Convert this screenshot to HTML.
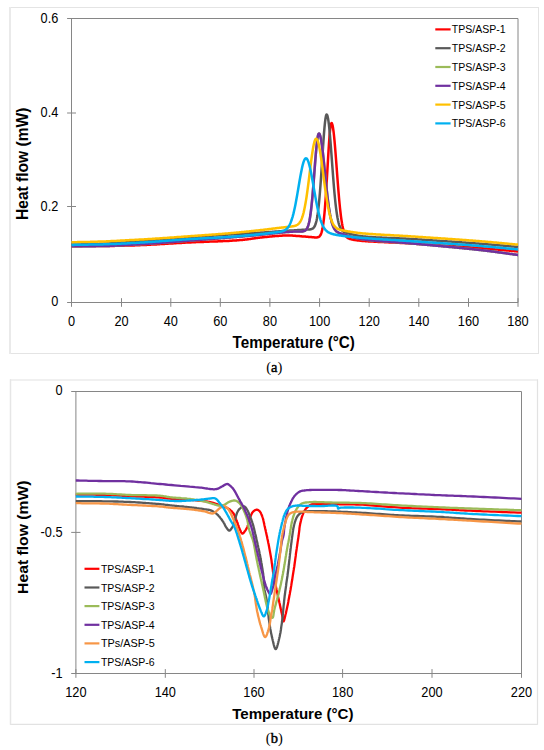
<!DOCTYPE html>
<html><head><meta charset="utf-8"><style>
html,body{margin:0;padding:0;background:#fff;}
svg{display:block;}
text{font-family:"Liberation Sans",sans-serif;fill:#000;}
.tl{font-size:14.1px;}
.lg{font-size:11.3px;}
.ti{font-size:16px;font-weight:bold;}
.cap{font-family:"Liberation Serif",serif;font-size:14.5px;}
.cb{stroke:#000;stroke-width:0.45px;}
.tk{stroke:#868686;stroke-width:1;}
.ax{stroke:#868686;stroke-width:1;fill:none;}
.fr{stroke:#D9D9D9;stroke-width:1;fill:none;}
.la{fill:none;stroke-width:2.5;stroke-linejoin:round;stroke-linecap:butt;}
.lb{fill:none;stroke-width:2.3;stroke-linejoin:round;stroke-linecap:butt;}
</style></head><body>
<svg width="544" height="750" viewBox="0 0 544 750">
<path d="M9 7.5H538.5M538.5 7V354M538.5 353.5H9" stroke="#E4E4E4" stroke-width="1" fill="none"/>
<path d="M10 7V354" stroke="#EAEAEA" stroke-width="2" fill="none"/>
<path d="M10 380H537.5M537.5 379.3V724.8M537.5 724.3H10" stroke="#E2E2E2" stroke-width="1.2" fill="none"/>
<path d="M10.5 379.3V724.8" stroke="#E6E6E6" stroke-width="1.5" fill="none"/>
<!-- chart A -->
<path d="M71.5 18.5H518.0V302.5H71.5Z" class="ax"/>
<line x1="67.1" y1="302.50" x2="76" y2="302.50" class="tk"/>
<text x="58.3" y="306.4" class="tl" text-anchor="end" textLength="7.10" lengthAdjust="spacingAndGlyphs">0</text>
<line x1="67.1" y1="206.50" x2="76" y2="206.50" class="tk"/>
<text x="58.3" y="210.9" class="tl" text-anchor="end" textLength="17.70" lengthAdjust="spacingAndGlyphs">0.2</text>
<line x1="67.1" y1="113.00" x2="76" y2="113.00" class="tk"/>
<text x="58.3" y="117.0" class="tl" text-anchor="end" textLength="17.70" lengthAdjust="spacingAndGlyphs">0.4</text>
<line x1="67.1" y1="18.50" x2="76" y2="18.50" class="tk"/>
<text x="58.3" y="22.5" class="tl" text-anchor="end" textLength="17.70" lengthAdjust="spacingAndGlyphs">0.6</text>
<line x1="71.50" y1="298.2" x2="71.50" y2="306.8" class="tk"/>
<text x="71.50" y="325.5" class="tl" text-anchor="middle" textLength="7.10" lengthAdjust="spacingAndGlyphs">0</text>
<line x1="121.50" y1="298.2" x2="121.50" y2="306.8" class="tk"/>
<text x="121.50" y="325.5" class="tl" text-anchor="middle" textLength="14.20" lengthAdjust="spacingAndGlyphs">20</text>
<line x1="170.80" y1="298.2" x2="170.80" y2="306.8" class="tk"/>
<text x="170.80" y="325.5" class="tl" text-anchor="middle" textLength="14.20" lengthAdjust="spacingAndGlyphs">40</text>
<line x1="220.30" y1="298.2" x2="220.30" y2="306.8" class="tk"/>
<text x="220.30" y="325.5" class="tl" text-anchor="middle" textLength="14.20" lengthAdjust="spacingAndGlyphs">60</text>
<line x1="269.90" y1="298.2" x2="269.90" y2="306.8" class="tk"/>
<text x="269.90" y="325.5" class="tl" text-anchor="middle" textLength="14.20" lengthAdjust="spacingAndGlyphs">80</text>
<line x1="319.60" y1="298.2" x2="319.60" y2="306.8" class="tk"/>
<text x="319.60" y="325.5" class="tl" text-anchor="middle" textLength="21.30" lengthAdjust="spacingAndGlyphs">100</text>
<line x1="369.20" y1="298.2" x2="369.20" y2="306.8" class="tk"/>
<text x="369.20" y="325.5" class="tl" text-anchor="middle" textLength="21.30" lengthAdjust="spacingAndGlyphs">120</text>
<line x1="418.80" y1="298.2" x2="418.80" y2="306.8" class="tk"/>
<text x="418.80" y="325.5" class="tl" text-anchor="middle" textLength="21.30" lengthAdjust="spacingAndGlyphs">140</text>
<line x1="468.50" y1="298.2" x2="468.50" y2="306.8" class="tk"/>
<text x="468.50" y="325.5" class="tl" text-anchor="middle" textLength="21.30" lengthAdjust="spacingAndGlyphs">160</text>
<line x1="518.00" y1="298.2" x2="518.00" y2="306.8" class="tk"/>
<text x="518.00" y="325.5" class="tl" text-anchor="middle" textLength="21.30" lengthAdjust="spacingAndGlyphs">180</text>
<g>
<path d="M71.5 246.2L72.0 246.2L72.5 246.2L73.0 246.2L73.5 246.2L74.0 246.2L74.5 246.2L75.0 246.2L75.5 246.2L76.0 246.2L76.5 246.2L77.0 246.2L77.5 246.2L78.0 246.2L78.5 246.2L79.0 246.2L79.5 246.2L80.0 246.2L80.5 246.2L81.0 246.2L81.5 246.2L82.0 246.2L82.5 246.1L83.0 246.1L83.5 246.1L84.0 246.1L84.5 246.1L85.0 246.1L85.5 246.1L86.0 246.1L86.5 246.1L87.0 246.1L87.5 246.1L88.0 246.1L88.5 246.1L89.0 246.1L89.5 246.1L90.0 246.1L90.5 246.1L91.0 246.1L91.5 246.1L92.0 246.1L92.5 246.1L93.0 246.1L93.5 246.1L94.0 246.1L94.5 246.1L95.0 246.1L95.5 246.1L96.0 246.1L96.5 246.1L97.0 246.1L97.5 246.1L98.0 246.1L98.5 246.1L99.0 246.1L99.5 246.1L100.0 246.1L100.5 246.0L101.0 246.0L101.5 246.0L102.0 246.0L102.5 246.0L103.0 246.0L103.5 246.0L104.0 246.0L104.5 246.0L105.0 246.0L105.5 246.0L106.0 246.0L106.5 246.0L107.0 246.0L107.5 246.0L108.0 246.0L108.5 246.0L109.0 245.9L109.5 245.9L110.0 245.9L110.5 245.9L111.0 245.9L111.5 245.9L112.0 245.9L112.5 245.9L113.0 245.9L113.5 245.9L114.0 245.9L114.5 245.9L115.0 245.8L115.5 245.8L116.0 245.8L116.5 245.8L117.0 245.8L117.5 245.8L118.0 245.8L118.5 245.8L119.0 245.8L119.5 245.8L120.0 245.8L120.5 245.7L121.0 245.7L121.5 245.7L122.0 245.7L122.5 245.7L123.0 245.7L123.5 245.7L124.0 245.7L124.5 245.6L125.0 245.6L125.5 245.6L126.0 245.6L126.5 245.6L127.0 245.6L127.5 245.6L128.0 245.6L128.5 245.5L129.0 245.5L129.5 245.5L130.0 245.5L130.5 245.5L131.0 245.5L131.5 245.5L132.0 245.4L132.5 245.4L133.0 245.4L133.5 245.4L134.0 245.4L134.5 245.4L135.0 245.3L135.5 245.3L136.0 245.3L136.5 245.3L137.0 245.3L137.5 245.2L138.0 245.2L138.5 245.2L139.0 245.2L139.5 245.2L140.0 245.2L140.5 245.1L141.0 245.1L141.5 245.1L142.0 245.1L142.5 245.0L143.0 245.0L143.5 245.0L144.0 245.0L144.5 245.0L145.0 244.9L145.5 244.9L146.0 244.9L146.5 244.9L147.0 244.8L147.5 244.8L148.0 244.8L148.5 244.8L149.0 244.7L149.5 244.7L150.0 244.7L150.5 244.7L151.0 244.6L151.5 244.6L152.0 244.6L152.5 244.6L153.0 244.5L153.5 244.5L154.0 244.5L154.5 244.5L155.0 244.4L155.5 244.4L156.0 244.4L156.5 244.4L157.0 244.3L157.5 244.3L158.0 244.3L158.5 244.2L159.0 244.2L159.5 244.2L160.0 244.1L160.5 244.1L161.0 244.1L161.5 244.1L162.0 244.0L162.5 244.0L163.0 244.0L163.5 243.9L164.0 243.9L164.5 243.9L165.0 243.8L165.5 243.8L166.0 243.8L166.5 243.8L167.0 243.7L167.5 243.7L168.0 243.7L168.5 243.6L169.0 243.6L169.5 243.6L170.0 243.5L170.5 243.5L171.0 243.5L171.5 243.4L172.0 243.4L172.5 243.4L173.0 243.4L173.5 243.3L174.0 243.3L174.5 243.3L175.0 243.2L175.5 243.2L176.0 243.2L176.5 243.1L177.0 243.1L177.5 243.1L178.0 243.1L178.5 243.0L179.0 243.0L179.5 243.0L180.0 242.9L180.5 242.9L181.0 242.9L181.5 242.9L182.0 242.8L182.5 242.8L183.0 242.8L183.5 242.7L184.0 242.7L184.5 242.7L185.0 242.7L185.5 242.6L186.0 242.6L186.5 242.6L187.0 242.6L187.5 242.5L188.0 242.5L188.5 242.5L189.0 242.5L189.5 242.4L190.0 242.4L190.5 242.4L191.0 242.4L191.5 242.3L192.0 242.3L192.5 242.3L193.0 242.3L193.5 242.2L194.0 242.2L194.5 242.2L195.0 242.2L195.5 242.2L196.0 242.1L196.5 242.1L197.0 242.1L197.5 242.1L198.0 242.1L198.5 242.0L199.0 242.0L199.5 242.0L200.0 242.0L200.5 242.0L201.0 241.9L201.5 241.9L202.0 241.9L202.5 241.9L203.0 241.9L203.5 241.9L204.0 241.8L204.5 241.8L205.0 241.8L205.5 241.8L206.0 241.8L206.5 241.7L207.0 241.7L207.5 241.7L208.0 241.7L208.5 241.7L209.0 241.7L209.5 241.6L210.0 241.6L210.5 241.6L211.0 241.6L211.5 241.6L212.0 241.6L212.5 241.5L213.0 241.5L213.5 241.5L214.0 241.5L214.5 241.5L215.0 241.5L215.5 241.4L216.0 241.4L216.5 241.4L217.0 241.4L217.5 241.4L218.0 241.3L218.5 241.3L219.0 241.3L219.5 241.3L220.0 241.3L220.5 241.2L221.0 241.2L221.5 241.2L222.0 241.2L222.5 241.2L223.0 241.1L223.5 241.1L224.0 241.1L224.5 241.1L225.0 241.1L225.5 241.0L226.0 241.0L226.5 241.0L227.0 241.0L227.5 240.9L228.0 240.9L228.5 240.9L229.0 240.9L229.5 240.8L230.0 240.8L230.5 240.8L231.0 240.7L231.5 240.7L232.0 240.7L232.5 240.6L233.0 240.6L233.5 240.6L234.0 240.5L234.5 240.5L235.0 240.5L235.5 240.4L236.0 240.4L236.5 240.4L237.0 240.3L237.5 240.3L238.0 240.3L238.5 240.2L239.0 240.2L239.5 240.1L240.0 240.1L240.5 240.0L241.0 240.0L241.5 240.0L242.0 239.9L242.5 239.9L243.0 239.8L243.5 239.8L244.0 239.7L244.5 239.7L245.0 239.6L245.5 239.5L246.0 239.5L246.5 239.4L247.0 239.4L247.5 239.3L248.0 239.2L248.5 239.2L249.0 239.1L249.5 239.0L250.0 239.0L250.5 238.9L251.0 238.8L251.5 238.7L252.0 238.7L252.5 238.6L253.0 238.5L253.5 238.4L254.0 238.4L254.5 238.3L255.0 238.2L255.5 238.2L256.0 238.1L256.5 238.0L257.0 238.0L257.5 237.9L258.0 237.8L258.5 237.8L259.0 237.7L259.5 237.7L260.0 237.6L260.5 237.5L261.0 237.5L261.5 237.4L262.0 237.4L262.5 237.3L263.0 237.3L263.5 237.2L264.0 237.2L264.5 237.1L265.0 237.1L265.5 237.0L266.0 237.0L266.5 236.9L267.0 236.9L267.5 236.8L268.0 236.8L268.5 236.7L269.0 236.7L269.5 236.6L270.0 236.6L270.5 236.5L271.0 236.5L271.5 236.4L272.0 236.4L272.5 236.3L273.0 236.3L273.5 236.3L274.0 236.2L274.5 236.2L275.0 236.1L275.5 236.1L276.0 236.1L276.5 236.0L277.0 236.0L277.5 235.9L278.0 235.9L278.5 235.9L279.0 235.8L279.5 235.8L280.0 235.8L280.5 235.7L281.0 235.7L281.5 235.7L282.0 235.7L282.5 235.6L283.0 235.6L283.5 235.6L284.0 235.6L284.5 235.6L285.0 235.5L285.5 235.5L286.0 235.5L286.5 235.5L287.0 235.5L287.5 235.5L288.0 235.5L288.5 235.5L289.0 235.5L289.5 235.5L290.0 235.5L290.5 235.5L291.0 235.6L291.5 235.6L292.0 235.6L292.5 235.6L293.0 235.7L293.5 235.7L294.0 235.7L294.5 235.7L295.0 235.8L295.5 235.8L296.0 235.9L296.5 235.9L297.0 235.9L297.5 236.0L298.0 236.0L298.5 236.1L299.0 236.1L299.5 236.1L300.0 236.2L300.5 236.2L301.0 236.3L301.5 236.3L302.0 236.4L302.5 236.4L303.0 236.4L303.5 236.5L304.0 236.5L304.5 236.6L305.0 236.6L305.5 236.6L306.0 236.7L306.5 236.7L307.0 236.7L307.5 236.8L308.0 236.8L308.5 236.9L309.0 236.9L309.5 237.0L310.0 237.0L310.5 237.0L311.0 237.1L311.5 237.1L312.0 237.2L312.5 237.2L313.0 237.3L313.5 237.3L314.0 237.3L314.5 237.4L315.0 237.4L315.5 237.4L316.0 237.4L316.5 237.4L317.0 237.4L317.5 237.3L318.0 237.2L318.5 237.0L319.0 236.8L319.5 236.4L320.0 235.8L320.5 235.1L321.0 234.1L321.5 232.7L322.0 230.9L322.5 228.6L323.0 225.8L323.5 222.2L324.0 218.0L324.5 213.0L325.0 207.1L325.5 200.5L326.0 193.2L326.5 185.2L327.0 176.8L327.5 168.2L328.0 159.5L328.5 151.1L329.0 143.4L329.5 136.5L330.0 130.8L330.5 126.5L331.0 123.9L331.5 123.0L332.0 123.5L332.5 125.1L333.0 127.7L333.5 131.2L334.0 135.6L334.5 140.7L335.0 146.4L335.5 152.5L336.0 159.0L336.5 165.7L337.0 172.4L337.5 179.0L338.0 185.5L338.5 191.7L339.0 197.5L339.5 203.0L340.0 208.0L340.5 212.5L341.0 216.6L341.5 220.2L342.0 223.3L342.5 226.0L343.0 228.4L343.5 230.4L344.0 232.0L344.5 233.4L345.0 234.5L345.5 235.5L346.0 236.2L346.5 236.9L347.0 237.4L347.5 237.8L348.0 238.1L348.5 238.4L349.0 238.6L349.5 238.8L350.0 239.0L350.5 239.1L351.0 239.2L351.5 239.3L352.0 239.5L352.5 239.6L353.0 239.7L353.5 239.8L354.0 239.9L354.5 239.9L355.0 240.0L355.5 240.1L356.0 240.2L356.5 240.3L357.0 240.3L357.5 240.4L358.0 240.5L358.5 240.5L359.0 240.6L359.5 240.6L360.0 240.7L360.5 240.7L361.0 240.8L361.5 240.8L362.0 240.9L362.5 240.9L363.0 241.0L363.5 241.0L364.0 241.0L364.5 241.1L365.0 241.1L365.5 241.2L366.0 241.2L366.5 241.2L367.0 241.3L367.5 241.3L368.0 241.3L368.5 241.4L369.0 241.4L369.5 241.4L370.0 241.5L370.5 241.5L371.0 241.5L371.5 241.5L372.0 241.6L372.5 241.6L373.0 241.6L373.5 241.6L374.0 241.7L374.5 241.7L375.0 241.7L375.5 241.7L376.0 241.8L376.5 241.8L377.0 241.8L377.5 241.8L378.0 241.9L378.5 241.9L379.0 241.9L379.5 241.9L380.0 242.0L380.5 242.0L381.0 242.0L381.5 242.0L382.0 242.1L382.5 242.1L383.0 242.1L383.5 242.1L384.0 242.1L384.5 242.2L385.0 242.2L385.5 242.2L386.0 242.2L386.5 242.3L387.0 242.3L387.5 242.3L388.0 242.3L388.5 242.3L389.0 242.4L389.5 242.4L390.0 242.4L390.5 242.4L391.0 242.4L391.5 242.5L392.0 242.5L392.5 242.5L393.0 242.5L393.5 242.6L394.0 242.6L394.5 242.6L395.0 242.6L395.5 242.6L396.0 242.7L396.5 242.7L397.0 242.7L397.5 242.7L398.0 242.8L398.5 242.8L399.0 242.8L399.5 242.8L400.0 242.9L400.5 242.9L401.0 242.9L401.5 242.9L402.0 243.0L402.5 243.0L403.0 243.0L403.5 243.0L404.0 243.1L404.5 243.1L405.0 243.1L405.5 243.1L406.0 243.2L406.5 243.2L407.0 243.2L407.5 243.3L408.0 243.3L408.5 243.3L409.0 243.3L409.5 243.4L410.0 243.4L410.5 243.4L411.0 243.5L411.5 243.5L412.0 243.5L412.5 243.6L413.0 243.6L413.5 243.6L414.0 243.6L414.5 243.7L415.0 243.7L415.5 243.7L416.0 243.8L416.5 243.8L417.0 243.8L417.5 243.9L418.0 243.9L418.5 243.9L419.0 244.0L419.5 244.0L420.0 244.0L420.5 244.0L421.0 244.1L421.5 244.1L422.0 244.1L422.5 244.2L423.0 244.2L423.5 244.2L424.0 244.3L424.5 244.3L425.0 244.3L425.5 244.4L426.0 244.4L426.5 244.4L427.0 244.5L427.5 244.5L428.0 244.5L428.5 244.5L429.0 244.6L429.5 244.6L430.0 244.6L430.5 244.7L431.0 244.7L431.5 244.7L432.0 244.8L432.5 244.8L433.0 244.8L433.5 244.9L434.0 244.9L434.5 244.9L435.0 245.0L435.5 245.0L436.0 245.0L436.5 245.1L437.0 245.1L437.5 245.1L438.0 245.2L438.5 245.2L439.0 245.2L439.5 245.3L440.0 245.3L440.5 245.3L441.0 245.4L441.5 245.4L442.0 245.4L442.5 245.5L443.0 245.5L443.5 245.5L444.0 245.6L444.5 245.6L445.0 245.6L445.5 245.7L446.0 245.7L446.5 245.7L447.0 245.8L447.5 245.8L448.0 245.8L448.5 245.9L449.0 245.9L449.5 245.9L450.0 246.0L450.5 246.0L451.0 246.0L451.5 246.1L452.0 246.1L452.5 246.1L453.0 246.2L453.5 246.2L454.0 246.2L454.5 246.3L455.0 246.3L455.5 246.3L456.0 246.4L456.5 246.4L457.0 246.4L457.5 246.5L458.0 246.5L458.5 246.5L459.0 246.6L459.5 246.6L460.0 246.6L460.5 246.7L461.0 246.7L461.5 246.7L462.0 246.8L462.5 246.8L463.0 246.8L463.5 246.9L464.0 246.9L464.5 247.0L465.0 247.0L465.5 247.0L466.0 247.1L466.5 247.1L467.0 247.1L467.5 247.2L468.0 247.2L468.5 247.2L469.0 247.3L469.5 247.3L470.0 247.3L470.5 247.4L471.0 247.4L471.5 247.5L472.0 247.5L472.5 247.5L473.0 247.6L473.5 247.6L474.0 247.6L474.5 247.7L475.0 247.7L475.5 247.8L476.0 247.8L476.5 247.8L477.0 247.9L477.5 247.9L478.0 247.9L478.5 248.0L479.0 248.0L479.5 248.1L480.0 248.1L480.5 248.1L481.0 248.2L481.5 248.2L482.0 248.3L482.5 248.3L483.0 248.3L483.5 248.4L484.0 248.4L484.5 248.5L485.0 248.5L485.5 248.5L486.0 248.6L486.5 248.6L487.0 248.7L487.5 248.7L488.0 248.7L488.5 248.8L489.0 248.8L489.5 248.9L490.0 248.9L490.5 249.0L491.0 249.0L491.5 249.1L492.0 249.1L492.5 249.1L493.0 249.2L493.5 249.2L494.0 249.3L494.5 249.3L495.0 249.4L495.5 249.4L496.0 249.4L496.5 249.5L497.0 249.5L497.5 249.6L498.0 249.6L498.5 249.7L499.0 249.7L499.5 249.8L500.0 249.8L500.5 249.9L501.0 249.9L501.5 250.0L502.0 250.0L502.5 250.0L503.0 250.1L503.5 250.1L504.0 250.2L504.5 250.2L505.0 250.3L505.5 250.3L506.0 250.4L506.5 250.4L507.0 250.5L507.5 250.5L508.0 250.6L508.5 250.6L509.0 250.6L509.5 250.7L510.0 250.7L510.5 250.8L511.0 250.8L511.5 250.9L512.0 250.9L512.5 251.0L513.0 251.0L513.5 251.1L514.0 251.1L514.5 251.2L515.0 251.2L515.5 251.2L516.0 251.3L516.5 251.3L517.0 251.4L517.5 251.4L518.0 251.5" stroke="#FF0000" class="la"/>
<path d="M71.5 244.6L72.0 244.6L72.5 244.6L73.0 244.6L73.5 244.5L74.0 244.5L74.5 244.5L75.0 244.5L75.5 244.5L76.0 244.5L76.5 244.5L77.0 244.5L77.5 244.4L78.0 244.4L78.5 244.4L79.0 244.4L79.5 244.4L80.0 244.4L80.5 244.4L81.0 244.4L81.5 244.3L82.0 244.3L82.5 244.3L83.0 244.3L83.5 244.3L84.0 244.3L84.5 244.3L85.0 244.3L85.5 244.3L86.0 244.2L86.5 244.2L87.0 244.2L87.5 244.2L88.0 244.2L88.5 244.2L89.0 244.2L89.5 244.2L90.0 244.1L90.5 244.1L91.0 244.1L91.5 244.1L92.0 244.1L92.5 244.1L93.0 244.1L93.5 244.0L94.0 244.0L94.5 244.0L95.0 244.0L95.5 244.0L96.0 244.0L96.5 243.9L97.0 243.9L97.5 243.9L98.0 243.9L98.5 243.9L99.0 243.9L99.5 243.8L100.0 243.8L100.5 243.8L101.0 243.8L101.5 243.8L102.0 243.7L102.5 243.7L103.0 243.7L103.5 243.7L104.0 243.6L104.5 243.6L105.0 243.6L105.5 243.6L106.0 243.6L106.5 243.5L107.0 243.5L107.5 243.5L108.0 243.4L108.5 243.4L109.0 243.4L109.5 243.4L110.0 243.3L110.5 243.3L111.0 243.3L111.5 243.3L112.0 243.2L112.5 243.2L113.0 243.2L113.5 243.1L114.0 243.1L114.5 243.1L115.0 243.0L115.5 243.0L116.0 243.0L116.5 243.0L117.0 242.9L117.5 242.9L118.0 242.9L118.5 242.8L119.0 242.8L119.5 242.8L120.0 242.7L120.5 242.7L121.0 242.7L121.5 242.6L122.0 242.6L122.5 242.6L123.0 242.5L123.5 242.5L124.0 242.5L124.5 242.4L125.0 242.4L125.5 242.4L126.0 242.3L126.5 242.3L127.0 242.3L127.5 242.2L128.0 242.2L128.5 242.2L129.0 242.1L129.5 242.1L130.0 242.1L130.5 242.0L131.0 242.0L131.5 242.0L132.0 241.9L132.5 241.9L133.0 241.8L133.5 241.8L134.0 241.8L134.5 241.7L135.0 241.7L135.5 241.7L136.0 241.6L136.5 241.6L137.0 241.6L137.5 241.5L138.0 241.5L138.5 241.4L139.0 241.4L139.5 241.4L140.0 241.3L140.5 241.3L141.0 241.3L141.5 241.2L142.0 241.2L142.5 241.2L143.0 241.1L143.5 241.1L144.0 241.0L144.5 241.0L145.0 241.0L145.5 240.9L146.0 240.9L146.5 240.9L147.0 240.8L147.5 240.8L148.0 240.7L148.5 240.7L149.0 240.7L149.5 240.6L150.0 240.6L150.5 240.6L151.0 240.5L151.5 240.5L152.0 240.5L152.5 240.4L153.0 240.4L153.5 240.3L154.0 240.3L154.5 240.3L155.0 240.2L155.5 240.2L156.0 240.1L156.5 240.1L157.0 240.1L157.5 240.0L158.0 240.0L158.5 240.0L159.0 239.9L159.5 239.9L160.0 239.8L160.5 239.8L161.0 239.8L161.5 239.7L162.0 239.7L162.5 239.6L163.0 239.6L163.5 239.5L164.0 239.5L164.5 239.5L165.0 239.4L165.5 239.4L166.0 239.3L166.5 239.3L167.0 239.3L167.5 239.2L168.0 239.2L168.5 239.1L169.0 239.1L169.5 239.1L170.0 239.0L170.5 239.0L171.0 238.9L171.5 238.9L172.0 238.9L172.5 238.8L173.0 238.8L173.5 238.7L174.0 238.7L174.5 238.6L175.0 238.6L175.5 238.6L176.0 238.5L176.5 238.5L177.0 238.4L177.5 238.4L178.0 238.4L178.5 238.3L179.0 238.3L179.5 238.2L180.0 238.2L180.5 238.2L181.0 238.1L181.5 238.1L182.0 238.0L182.5 238.0L183.0 237.9L183.5 237.9L184.0 237.9L184.5 237.8L185.0 237.8L185.5 237.7L186.0 237.7L186.5 237.7L187.0 237.6L187.5 237.6L188.0 237.6L188.5 237.5L189.0 237.5L189.5 237.4L190.0 237.4L190.5 237.4L191.0 237.3L191.5 237.3L192.0 237.2L192.5 237.2L193.0 237.2L193.5 237.1L194.0 237.1L194.5 237.1L195.0 237.0L195.5 237.0L196.0 236.9L196.5 236.9L197.0 236.9L197.5 236.8L198.0 236.8L198.5 236.8L199.0 236.7L199.5 236.7L200.0 236.6L200.5 236.6L201.0 236.6L201.5 236.5L202.0 236.5L202.5 236.5L203.0 236.4L203.5 236.4L204.0 236.3L204.5 236.3L205.0 236.3L205.5 236.2L206.0 236.2L206.5 236.2L207.0 236.1L207.5 236.1L208.0 236.1L208.5 236.0L209.0 236.0L209.5 235.9L210.0 235.9L210.5 235.9L211.0 235.8L211.5 235.8L212.0 235.8L212.5 235.7L213.0 235.7L213.5 235.7L214.0 235.6L214.5 235.6L215.0 235.5L215.5 235.5L216.0 235.5L216.5 235.4L217.0 235.4L217.5 235.4L218.0 235.3L218.5 235.3L219.0 235.3L219.5 235.2L220.0 235.2L220.5 235.2L221.0 235.1L221.5 235.1L222.0 235.0L222.5 235.0L223.0 235.0L223.5 234.9L224.0 234.9L224.5 234.9L225.0 234.8L225.5 234.8L226.0 234.8L226.5 234.7L227.0 234.7L227.5 234.7L228.0 234.6L228.5 234.6L229.0 234.6L229.5 234.5L230.0 234.5L230.5 234.5L231.0 234.4L231.5 234.4L232.0 234.4L232.5 234.3L233.0 234.3L233.5 234.3L234.0 234.2L234.5 234.2L235.0 234.2L235.5 234.2L236.0 234.1L236.5 234.1L237.0 234.1L237.5 234.0L238.0 234.0L238.5 234.0L239.0 233.9L239.5 233.9L240.0 233.9L240.5 233.9L241.0 233.8L241.5 233.8L242.0 233.8L242.5 233.7L243.0 233.7L243.5 233.7L244.0 233.7L244.5 233.6L245.0 233.6L245.5 233.6L246.0 233.5L246.5 233.5L247.0 233.5L247.5 233.5L248.0 233.4L248.5 233.4L249.0 233.4L249.5 233.3L250.0 233.3L250.5 233.3L251.0 233.2L251.5 233.2L252.0 233.2L252.5 233.1L253.0 233.1L253.5 233.1L254.0 233.0L254.5 233.0L255.0 233.0L255.5 233.0L256.0 232.9L256.5 232.9L257.0 232.9L257.5 232.8L258.0 232.8L258.5 232.8L259.0 232.7L259.5 232.7L260.0 232.7L260.5 232.6L261.0 232.6L261.5 232.6L262.0 232.5L262.5 232.5L263.0 232.5L263.5 232.4L264.0 232.4L264.5 232.4L265.0 232.3L265.5 232.3L266.0 232.3L266.5 232.2L267.0 232.2L267.5 232.2L268.0 232.1L268.5 232.1L269.0 232.1L269.5 232.0L270.0 232.0L270.5 232.0L271.0 231.9L271.5 231.9L272.0 231.9L272.5 231.8L273.0 231.8L273.5 231.8L274.0 231.7L274.5 231.7L275.0 231.6L275.5 231.6L276.0 231.6L276.5 231.5L277.0 231.5L277.5 231.5L278.0 231.4L278.5 231.4L279.0 231.3L279.5 231.3L280.0 231.3L280.5 231.2L281.0 231.2L281.5 231.2L282.0 231.1L282.5 231.1L283.0 231.1L283.5 231.0L284.0 231.0L284.5 230.9L285.0 230.9L285.5 230.9L286.0 230.8L286.5 230.8L287.0 230.8L287.5 230.8L288.0 230.7L288.5 230.7L289.0 230.7L289.5 230.6L290.0 230.6L290.5 230.6L291.0 230.5L291.5 230.5L292.0 230.5L292.5 230.4L293.0 230.4L293.5 230.4L294.0 230.4L294.5 230.3L295.0 230.3L295.5 230.3L296.0 230.2L296.5 230.2L297.0 230.2L297.5 230.1L298.0 230.1L298.5 230.1L299.0 230.0L299.5 230.0L300.0 230.0L300.5 229.9L301.0 229.9L301.5 229.9L302.0 229.8L302.5 229.8L303.0 229.8L303.5 229.8L304.0 229.7L304.5 229.7L305.0 229.7L305.5 229.7L306.0 229.6L306.5 229.6L307.0 229.6L307.5 229.6L308.0 229.5L308.5 229.5L309.0 229.5L309.5 229.4L310.0 229.4L310.5 229.3L311.0 229.2L311.5 229.1L312.0 228.9L312.5 228.7L313.0 228.4L313.5 227.9L314.0 227.3L314.5 226.6L315.0 225.6L315.5 224.3L316.0 222.7L316.5 220.7L317.0 218.2L317.5 215.3L318.0 211.7L318.5 207.6L319.0 202.9L319.5 197.5L320.0 191.5L320.5 185.0L321.0 177.9L321.5 170.5L322.0 162.8L322.5 155.0L323.0 147.4L323.5 140.1L324.0 133.4L324.5 127.4L325.0 122.3L325.5 118.5L326.0 115.8L326.5 114.6L327.0 114.7L327.5 115.9L328.0 118.2L328.5 121.4L329.0 125.4L329.5 130.3L330.0 135.8L330.5 141.9L331.0 148.3L331.5 155.0L332.0 161.8L332.5 168.5L333.0 175.1L333.5 181.5L334.0 187.6L334.5 193.3L335.0 198.5L335.5 203.3L336.0 207.6L336.5 211.4L337.0 214.8L337.5 217.8L338.0 220.3L338.5 222.5L339.0 224.3L339.5 225.8L340.0 227.1L340.5 228.2L341.0 229.0L341.5 229.7L342.0 230.3L342.5 230.8L343.0 231.2L343.5 231.5L344.0 231.8L344.5 232.1L345.0 232.3L345.5 232.5L346.0 232.6L346.5 232.8L347.0 233.0L347.5 233.1L348.0 233.3L348.5 233.4L349.0 233.6L349.5 233.7L350.0 233.8L350.5 234.0L351.0 234.1L351.5 234.2L352.0 234.4L352.5 234.5L353.0 234.6L353.5 234.7L354.0 234.9L354.5 235.0L355.0 235.1L355.5 235.2L356.0 235.3L356.5 235.4L357.0 235.5L357.5 235.6L358.0 235.7L358.5 235.8L359.0 235.8L359.5 235.9L360.0 236.0L360.5 236.1L361.0 236.1L361.5 236.2L362.0 236.3L362.5 236.3L363.0 236.4L363.5 236.4L364.0 236.5L364.5 236.5L365.0 236.6L365.5 236.6L366.0 236.7L366.5 236.7L367.0 236.8L367.5 236.8L368.0 236.9L368.5 236.9L369.0 236.9L369.5 237.0L370.0 237.0L370.5 237.0L371.0 237.1L371.5 237.1L372.0 237.1L372.5 237.2L373.0 237.2L373.5 237.2L374.0 237.3L374.5 237.3L375.0 237.3L375.5 237.3L376.0 237.4L376.5 237.4L377.0 237.4L377.5 237.4L378.0 237.5L378.5 237.5L379.0 237.5L379.5 237.5L380.0 237.6L380.5 237.6L381.0 237.6L381.5 237.6L382.0 237.7L382.5 237.7L383.0 237.7L383.5 237.7L384.0 237.7L384.5 237.8L385.0 237.8L385.5 237.8L386.0 237.8L386.5 237.8L387.0 237.9L387.5 237.9L388.0 237.9L388.5 237.9L389.0 237.9L389.5 238.0L390.0 238.0L390.5 238.0L391.0 238.0L391.5 238.0L392.0 238.0L392.5 238.1L393.0 238.1L393.5 238.1L394.0 238.1L394.5 238.1L395.0 238.2L395.5 238.2L396.0 238.2L396.5 238.2L397.0 238.2L397.5 238.3L398.0 238.3L398.5 238.3L399.0 238.3L399.5 238.4L400.0 238.4L400.5 238.4L401.0 238.4L401.5 238.4L402.0 238.5L402.5 238.5L403.0 238.5L403.5 238.5L404.0 238.6L404.5 238.6L405.0 238.6L405.5 238.6L406.0 238.7L406.5 238.7L407.0 238.7L407.5 238.8L408.0 238.8L408.5 238.8L409.0 238.8L409.5 238.9L410.0 238.9L410.5 238.9L411.0 239.0L411.5 239.0L412.0 239.0L412.5 239.1L413.0 239.1L413.5 239.1L414.0 239.2L414.5 239.2L415.0 239.2L415.5 239.3L416.0 239.3L416.5 239.3L417.0 239.3L417.5 239.4L418.0 239.4L418.5 239.4L419.0 239.5L419.5 239.5L420.0 239.5L420.5 239.6L421.0 239.6L421.5 239.6L422.0 239.7L422.5 239.7L423.0 239.7L423.5 239.8L424.0 239.8L424.5 239.8L425.0 239.9L425.5 239.9L426.0 239.9L426.5 240.0L427.0 240.0L427.5 240.0L428.0 240.1L428.5 240.1L429.0 240.1L429.5 240.2L430.0 240.2L430.5 240.2L431.0 240.3L431.5 240.3L432.0 240.3L432.5 240.4L433.0 240.4L433.5 240.4L434.0 240.5L434.5 240.5L435.0 240.5L435.5 240.6L436.0 240.6L436.5 240.6L437.0 240.7L437.5 240.7L438.0 240.7L438.5 240.8L439.0 240.8L439.5 240.8L440.0 240.9L440.5 240.9L441.0 240.9L441.5 241.0L442.0 241.0L442.5 241.0L443.0 241.1L443.5 241.1L444.0 241.1L444.5 241.2L445.0 241.2L445.5 241.2L446.0 241.3L446.5 241.3L447.0 241.3L447.5 241.4L448.0 241.4L448.5 241.4L449.0 241.5L449.5 241.5L450.0 241.5L450.5 241.6L451.0 241.6L451.5 241.6L452.0 241.7L452.5 241.7L453.0 241.7L453.5 241.8L454.0 241.8L454.5 241.8L455.0 241.9L455.5 241.9L456.0 242.0L456.5 242.0L457.0 242.0L457.5 242.1L458.0 242.1L458.5 242.1L459.0 242.2L459.5 242.2L460.0 242.2L460.5 242.3L461.0 242.3L461.5 242.3L462.0 242.4L462.5 242.4L463.0 242.4L463.5 242.5L464.0 242.5L464.5 242.6L465.0 242.6L465.5 242.6L466.0 242.7L466.5 242.7L467.0 242.7L467.5 242.8L468.0 242.8L468.5 242.8L469.0 242.9L469.5 242.9L470.0 242.9L470.5 243.0L471.0 243.0L471.5 243.1L472.0 243.1L472.5 243.1L473.0 243.2L473.5 243.2L474.0 243.2L474.5 243.3L475.0 243.3L475.5 243.4L476.0 243.4L476.5 243.4L477.0 243.5L477.5 243.5L478.0 243.5L478.5 243.6L479.0 243.6L479.5 243.7L480.0 243.7L480.5 243.7L481.0 243.8L481.5 243.8L482.0 243.9L482.5 243.9L483.0 243.9L483.5 244.0L484.0 244.0L484.5 244.1L485.0 244.1L485.5 244.1L486.0 244.2L486.5 244.2L487.0 244.3L487.5 244.3L488.0 244.3L488.5 244.4L489.0 244.4L489.5 244.5L490.0 244.5L490.5 244.5L491.0 244.6L491.5 244.6L492.0 244.7L492.5 244.7L493.0 244.8L493.5 244.8L494.0 244.8L494.5 244.9L495.0 244.9L495.5 245.0L496.0 245.0L496.5 245.1L497.0 245.1L497.5 245.2L498.0 245.2L498.5 245.2L499.0 245.3L499.5 245.3L500.0 245.4L500.5 245.4L501.0 245.5L501.5 245.5L502.0 245.5L502.5 245.6L503.0 245.6L503.5 245.7L504.0 245.7L504.5 245.8L505.0 245.8L505.5 245.9L506.0 245.9L506.5 246.0L507.0 246.0L507.5 246.0L508.0 246.1L508.5 246.1L509.0 246.2L509.5 246.2L510.0 246.3L510.5 246.3L511.0 246.4L511.5 246.4L512.0 246.4L512.5 246.5L513.0 246.5L513.5 246.6L514.0 246.6L514.5 246.7L515.0 246.7L515.5 246.7L516.0 246.8L516.5 246.8L517.0 246.9L517.5 246.9L518.0 247.0" stroke="#595959" class="la"/>
<path d="M71.5 246.2L72.0 246.2L72.5 246.2L73.0 246.2L73.5 246.2L74.0 246.2L74.5 246.2L75.0 246.2L75.5 246.2L76.0 246.2L76.5 246.2L77.0 246.2L77.5 246.2L78.0 246.2L78.5 246.2L79.0 246.2L79.5 246.2L80.0 246.2L80.5 246.2L81.0 246.2L81.5 246.2L82.0 246.2L82.5 246.2L83.0 246.2L83.5 246.2L84.0 246.2L84.5 246.2L85.0 246.2L85.5 246.2L86.0 246.2L86.5 246.2L87.0 246.2L87.5 246.2L88.0 246.2L88.5 246.2L89.0 246.2L89.5 246.2L90.0 246.2L90.5 246.2L91.0 246.2L91.5 246.2L92.0 246.2L92.5 246.2L93.0 246.2L93.5 246.2L94.0 246.2L94.5 246.2L95.0 246.2L95.5 246.2L96.0 246.1L96.5 246.1L97.0 246.1L97.5 246.1L98.0 246.1L98.5 246.1L99.0 246.1L99.5 246.1L100.0 246.1L100.5 246.1L101.0 246.1L101.5 246.1L102.0 246.1L102.5 246.1L103.0 246.0L103.5 246.0L104.0 246.0L104.5 246.0L105.0 246.0L105.5 246.0L106.0 246.0L106.5 246.0L107.0 245.9L107.5 245.9L108.0 245.9L108.5 245.9L109.0 245.9L109.5 245.9L110.0 245.8L110.5 245.8L111.0 245.8L111.5 245.8L112.0 245.8L112.5 245.7L113.0 245.7L113.5 245.7L114.0 245.7L114.5 245.6L115.0 245.6L115.5 245.6L116.0 245.6L116.5 245.5L117.0 245.5L117.5 245.5L118.0 245.5L118.5 245.4L119.0 245.4L119.5 245.4L120.0 245.4L120.5 245.3L121.0 245.3L121.5 245.3L122.0 245.2L122.5 245.2L123.0 245.2L123.5 245.2L124.0 245.1L124.5 245.1L125.0 245.1L125.5 245.0L126.0 245.0L126.5 245.0L127.0 245.0L127.5 244.9L128.0 244.9L128.5 244.9L129.0 244.9L129.5 244.8L130.0 244.8L130.5 244.8L131.0 244.7L131.5 244.7L132.0 244.7L132.5 244.7L133.0 244.6L133.5 244.6L134.0 244.6L134.5 244.6L135.0 244.5L135.5 244.5L136.0 244.5L136.5 244.4L137.0 244.4L137.5 244.4L138.0 244.4L138.5 244.3L139.0 244.3L139.5 244.3L140.0 244.2L140.5 244.2L141.0 244.2L141.5 244.1L142.0 244.1L142.5 244.1L143.0 244.1L143.5 244.0L144.0 244.0L144.5 244.0L145.0 243.9L145.5 243.9L146.0 243.9L146.5 243.8L147.0 243.8L147.5 243.8L148.0 243.7L148.5 243.7L149.0 243.7L149.5 243.6L150.0 243.6L150.5 243.6L151.0 243.5L151.5 243.5L152.0 243.5L152.5 243.4L153.0 243.4L153.5 243.4L154.0 243.3L154.5 243.3L155.0 243.3L155.5 243.2L156.0 243.2L156.5 243.1L157.0 243.1L157.5 243.1L158.0 243.0L158.5 243.0L159.0 243.0L159.5 242.9L160.0 242.9L160.5 242.9L161.0 242.8L161.5 242.8L162.0 242.7L162.5 242.7L163.0 242.7L163.5 242.6L164.0 242.6L164.5 242.6L165.0 242.5L165.5 242.5L166.0 242.4L166.5 242.4L167.0 242.4L167.5 242.3L168.0 242.3L168.5 242.3L169.0 242.2L169.5 242.2L170.0 242.1L170.5 242.1L171.0 242.1L171.5 242.0L172.0 242.0L172.5 242.0L173.0 241.9L173.5 241.9L174.0 241.8L174.5 241.8L175.0 241.8L175.5 241.7L176.0 241.7L176.5 241.6L177.0 241.6L177.5 241.6L178.0 241.5L178.5 241.5L179.0 241.5L179.5 241.4L180.0 241.4L180.5 241.3L181.0 241.3L181.5 241.3L182.0 241.2L182.5 241.2L183.0 241.1L183.5 241.1L184.0 241.1L184.5 241.0L185.0 241.0L185.5 240.9L186.0 240.9L186.5 240.9L187.0 240.8L187.5 240.8L188.0 240.8L188.5 240.7L189.0 240.7L189.5 240.6L190.0 240.6L190.5 240.6L191.0 240.5L191.5 240.5L192.0 240.4L192.5 240.4L193.0 240.4L193.5 240.3L194.0 240.3L194.5 240.2L195.0 240.2L195.5 240.2L196.0 240.1L196.5 240.1L197.0 240.1L197.5 240.0L198.0 240.0L198.5 239.9L199.0 239.9L199.5 239.9L200.0 239.8L200.5 239.8L201.0 239.7L201.5 239.7L202.0 239.7L202.5 239.6L203.0 239.6L203.5 239.5L204.0 239.5L204.5 239.5L205.0 239.4L205.5 239.4L206.0 239.3L206.5 239.3L207.0 239.3L207.5 239.2L208.0 239.2L208.5 239.1L209.0 239.1L209.5 239.1L210.0 239.0L210.5 239.0L211.0 238.9L211.5 238.9L212.0 238.9L212.5 238.8L213.0 238.8L213.5 238.7L214.0 238.7L214.5 238.7L215.0 238.6L215.5 238.6L216.0 238.5L216.5 238.5L217.0 238.5L217.5 238.4L218.0 238.4L218.5 238.3L219.0 238.3L219.5 238.3L220.0 238.2L220.5 238.2L221.0 238.1L221.5 238.1L222.0 238.1L222.5 238.0L223.0 238.0L223.5 237.9L224.0 237.9L224.5 237.9L225.0 237.8L225.5 237.8L226.0 237.7L226.5 237.7L227.0 237.6L227.5 237.6L228.0 237.6L228.5 237.5L229.0 237.5L229.5 237.4L230.0 237.4L230.5 237.4L231.0 237.3L231.5 237.3L232.0 237.2L232.5 237.2L233.0 237.2L233.5 237.1L234.0 237.1L234.5 237.0L235.0 237.0L235.5 236.9L236.0 236.9L236.5 236.9L237.0 236.8L237.5 236.8L238.0 236.7L238.5 236.7L239.0 236.7L239.5 236.6L240.0 236.6L240.5 236.5L241.0 236.5L241.5 236.4L242.0 236.4L242.5 236.4L243.0 236.3L243.5 236.3L244.0 236.2L244.5 236.2L245.0 236.1L245.5 236.1L246.0 236.1L246.5 236.0L247.0 236.0L247.5 235.9L248.0 235.9L248.5 235.8L249.0 235.8L249.5 235.7L250.0 235.7L250.5 235.7L251.0 235.6L251.5 235.6L252.0 235.5L252.5 235.5L253.0 235.4L253.5 235.4L254.0 235.3L254.5 235.3L255.0 235.2L255.5 235.2L256.0 235.1L256.5 235.1L257.0 235.0L257.5 235.0L258.0 234.9L258.5 234.9L259.0 234.8L259.5 234.8L260.0 234.7L260.5 234.7L261.0 234.6L261.5 234.6L262.0 234.5L262.5 234.4L263.0 234.4L263.5 234.3L264.0 234.3L264.5 234.2L265.0 234.2L265.5 234.1L266.0 234.1L266.5 234.0L267.0 234.0L267.5 233.9L268.0 233.9L268.5 233.8L269.0 233.8L269.5 233.7L270.0 233.7L270.5 233.6L271.0 233.5L271.5 233.5L272.0 233.4L272.5 233.4L273.0 233.3L273.5 233.3L274.0 233.2L274.5 233.2L275.0 233.1L275.5 233.1L276.0 233.0L276.5 233.0L277.0 232.9L277.5 232.9L278.0 232.8L278.5 232.8L279.0 232.7L279.5 232.7L280.0 232.6L280.5 232.6L281.0 232.5L281.5 232.5L282.0 232.4L282.5 232.4L283.0 232.3L283.5 232.3L284.0 232.2L284.5 232.2L285.0 232.2L285.5 232.1L286.0 232.1L286.5 232.0L287.0 232.0L287.5 232.0L288.0 231.9L288.5 231.9L289.0 231.9L289.5 231.8L290.0 231.8L290.5 231.8L291.0 231.7L291.5 231.7L292.0 231.7L292.5 231.7L293.0 231.6L293.5 231.6L294.0 231.6L294.5 231.6L295.0 231.6L295.5 231.6L296.0 231.5L296.5 231.5L297.0 231.5L297.5 231.5L298.0 231.5L298.5 231.5L299.0 231.5L299.5 231.5L300.0 231.5L300.5 231.5L301.0 231.5L301.5 231.4L302.0 231.4L302.5 231.4L303.0 231.3L303.5 231.2L304.0 231.1L304.5 230.9L305.0 230.6L305.5 230.3L306.0 229.8L306.5 229.2L307.0 228.5L307.5 227.5L308.0 226.2L308.5 224.6L309.0 222.7L309.5 220.4L310.0 217.6L310.5 214.3L311.0 210.4L311.5 206.1L312.0 201.2L312.5 195.8L313.0 189.9L313.5 183.7L314.0 177.3L314.5 170.7L315.0 164.1L315.5 157.8L316.0 151.8L316.5 146.5L317.0 141.8L317.5 138.1L318.0 135.4L318.5 133.9L319.0 133.5L319.5 134.0L320.0 135.2L320.5 137.0L321.0 139.4L321.5 142.3L322.0 145.8L322.5 149.7L323.0 154.0L323.5 158.6L324.0 163.3L324.5 168.3L325.0 173.2L325.5 178.2L326.0 183.1L326.5 187.8L327.0 192.4L327.5 196.7L328.0 200.8L328.5 204.6L329.0 208.1L329.5 211.3L330.0 214.3L330.5 216.9L331.0 219.2L331.5 221.3L332.0 223.1L332.5 224.7L333.0 226.1L333.5 227.2L334.0 228.2L334.5 229.1L335.0 229.8L335.5 230.4L336.0 231.0L336.5 231.4L337.0 231.8L337.5 232.1L338.0 232.4L338.5 232.7L339.0 232.9L339.5 233.1L340.0 233.3L340.5 233.4L341.0 233.6L341.5 233.8L342.0 233.9L342.5 234.1L343.0 234.2L343.5 234.4L344.0 234.5L344.5 234.7L345.0 234.8L345.5 235.0L346.0 235.2L346.5 235.3L347.0 235.5L347.5 235.6L348.0 235.8L348.5 236.0L349.0 236.1L349.5 236.3L350.0 236.4L350.5 236.6L351.0 236.7L351.5 236.9L352.0 237.0L352.5 237.2L353.0 237.3L353.5 237.4L354.0 237.6L354.5 237.7L355.0 237.8L355.5 238.0L356.0 238.1L356.5 238.2L357.0 238.3L357.5 238.4L358.0 238.5L358.5 238.6L359.0 238.7L359.5 238.8L360.0 238.9L360.5 239.0L361.0 239.1L361.5 239.1L362.0 239.2L362.5 239.3L363.0 239.4L363.5 239.4L364.0 239.5L364.5 239.6L365.0 239.6L365.5 239.7L366.0 239.8L366.5 239.8L367.0 239.9L367.5 240.0L368.0 240.0L368.5 240.1L369.0 240.1L369.5 240.2L370.0 240.2L370.5 240.3L371.0 240.3L371.5 240.4L372.0 240.4L372.5 240.5L373.0 240.5L373.5 240.6L374.0 240.6L374.5 240.7L375.0 240.7L375.5 240.8L376.0 240.8L376.5 240.8L377.0 240.9L377.5 240.9L378.0 241.0L378.5 241.0L379.0 241.0L379.5 241.1L380.0 241.1L380.5 241.1L381.0 241.2L381.5 241.2L382.0 241.3L382.5 241.3L383.0 241.3L383.5 241.4L384.0 241.4L384.5 241.4L385.0 241.5L385.5 241.5L386.0 241.5L386.5 241.6L387.0 241.6L387.5 241.6L388.0 241.7L388.5 241.7L389.0 241.7L389.5 241.8L390.0 241.8L390.5 241.8L391.0 241.9L391.5 241.9L392.0 241.9L392.5 242.0L393.0 242.0L393.5 242.0L394.0 242.1L394.5 242.1L395.0 242.1L395.5 242.2L396.0 242.2L396.5 242.2L397.0 242.3L397.5 242.3L398.0 242.3L398.5 242.4L399.0 242.4L399.5 242.5L400.0 242.5L400.5 242.5L401.0 242.6L401.5 242.6L402.0 242.6L402.5 242.7L403.0 242.7L403.5 242.8L404.0 242.8L404.5 242.8L405.0 242.9L405.5 242.9L406.0 243.0L406.5 243.0L407.0 243.0L407.5 243.1L408.0 243.1L408.5 243.2L409.0 243.2L409.5 243.3L410.0 243.3L410.5 243.3L411.0 243.4L411.5 243.4L412.0 243.5L412.5 243.5L413.0 243.6L413.5 243.6L414.0 243.7L414.5 243.7L415.0 243.8L415.5 243.8L416.0 243.8L416.5 243.9L417.0 243.9L417.5 244.0L418.0 244.0L418.5 244.1L419.0 244.1L419.5 244.2L420.0 244.2L420.5 244.3L421.0 244.3L421.5 244.3L422.0 244.4L422.5 244.4L423.0 244.5L423.5 244.5L424.0 244.6L424.5 244.6L425.0 244.7L425.5 244.7L426.0 244.8L426.5 244.8L427.0 244.8L427.5 244.9L428.0 244.9L428.5 245.0L429.0 245.0L429.5 245.1L430.0 245.1L430.5 245.2L431.0 245.2L431.5 245.3L432.0 245.3L432.5 245.3L433.0 245.4L433.5 245.4L434.0 245.5L434.5 245.5L435.0 245.6L435.5 245.6L436.0 245.7L436.5 245.7L437.0 245.8L437.5 245.8L438.0 245.8L438.5 245.9L439.0 245.9L439.5 246.0L440.0 246.0L440.5 246.1L441.0 246.1L441.5 246.2L442.0 246.2L442.5 246.3L443.0 246.3L443.5 246.4L444.0 246.4L444.5 246.4L445.0 246.5L445.5 246.5L446.0 246.6L446.5 246.6L447.0 246.7L447.5 246.7L448.0 246.8L448.5 246.8L449.0 246.9L449.5 246.9L450.0 247.0L450.5 247.0L451.0 247.1L451.5 247.1L452.0 247.1L452.5 247.2L453.0 247.2L453.5 247.3L454.0 247.3L454.5 247.4L455.0 247.4L455.5 247.5L456.0 247.5L456.5 247.6L457.0 247.6L457.5 247.7L458.0 247.7L458.5 247.8L459.0 247.8L459.5 247.9L460.0 247.9L460.5 248.0L461.0 248.0L461.5 248.1L462.0 248.1L462.5 248.2L463.0 248.2L463.5 248.3L464.0 248.3L464.5 248.4L465.0 248.4L465.5 248.5L466.0 248.5L466.5 248.6L467.0 248.6L467.5 248.7L468.0 248.7L468.5 248.8L469.0 248.8L469.5 248.9L470.0 248.9L470.5 249.0L471.0 249.0L471.5 249.1L472.0 249.1L472.5 249.2L473.0 249.2L473.5 249.3L474.0 249.3L474.5 249.4L475.0 249.5L475.5 249.5L476.0 249.6L476.5 249.6L477.0 249.7L477.5 249.7L478.0 249.8L478.5 249.8L479.0 249.9L479.5 249.9L480.0 250.0L480.5 250.1L481.0 250.1L481.5 250.2L482.0 250.2L482.5 250.3L483.0 250.3L483.5 250.4L484.0 250.5L484.5 250.5L485.0 250.6L485.5 250.6L486.0 250.7L486.5 250.8L487.0 250.8L487.5 250.9L488.0 250.9L488.5 251.0L489.0 251.1L489.5 251.1L490.0 251.2L490.5 251.3L491.0 251.3L491.5 251.4L492.0 251.5L492.5 251.5L493.0 251.6L493.5 251.6L494.0 251.7L494.5 251.8L495.0 251.8L495.5 251.9L496.0 252.0L496.5 252.0L497.0 252.1L497.5 252.2L498.0 252.2L498.5 252.3L499.0 252.4L499.5 252.4L500.0 252.5L500.5 252.6L501.0 252.6L501.5 252.7L502.0 252.8L502.5 252.8L503.0 252.9L503.5 253.0L504.0 253.1L504.5 253.1L505.0 253.2L505.5 253.3L506.0 253.3L506.5 253.4L507.0 253.5L507.5 253.5L508.0 253.6L508.5 253.7L509.0 253.7L509.5 253.8L510.0 253.9L510.5 253.9L511.0 254.0L511.5 254.1L512.0 254.1L512.5 254.2L513.0 254.3L513.5 254.4L514.0 254.4L514.5 254.5L515.0 254.6L515.5 254.6L516.0 254.7L516.5 254.8L517.0 254.8L517.5 254.9L518.0 254.9" stroke="#9BBB59" class="la"/>
<path d="M71.5 246.2L72.0 246.2L72.5 246.2L73.0 246.2L73.5 246.2L74.0 246.2L74.5 246.2L75.0 246.2L75.5 246.2L76.0 246.2L76.5 246.2L77.0 246.2L77.5 246.2L78.0 246.2L78.5 246.2L79.0 246.2L79.5 246.2L80.0 246.2L80.5 246.2L81.0 246.2L81.5 246.2L82.0 246.2L82.5 246.2L83.0 246.2L83.5 246.2L84.0 246.2L84.5 246.2L85.0 246.2L85.5 246.2L86.0 246.2L86.5 246.2L87.0 246.2L87.5 246.2L88.0 246.2L88.5 246.2L89.0 246.2L89.5 246.2L90.0 246.2L90.5 246.2L91.0 246.2L91.5 246.2L92.0 246.2L92.5 246.2L93.0 246.2L93.5 246.2L94.0 246.2L94.5 246.2L95.0 246.2L95.5 246.2L96.0 246.1L96.5 246.1L97.0 246.1L97.5 246.1L98.0 246.1L98.5 246.1L99.0 246.1L99.5 246.1L100.0 246.1L100.5 246.1L101.0 246.1L101.5 246.1L102.0 246.1L102.5 246.1L103.0 246.0L103.5 246.0L104.0 246.0L104.5 246.0L105.0 246.0L105.5 246.0L106.0 246.0L106.5 246.0L107.0 245.9L107.5 245.9L108.0 245.9L108.5 245.9L109.0 245.9L109.5 245.9L110.0 245.8L110.5 245.8L111.0 245.8L111.5 245.8L112.0 245.8L112.5 245.7L113.0 245.7L113.5 245.7L114.0 245.7L114.5 245.6L115.0 245.6L115.5 245.6L116.0 245.6L116.5 245.5L117.0 245.5L117.5 245.5L118.0 245.5L118.5 245.4L119.0 245.4L119.5 245.4L120.0 245.4L120.5 245.3L121.0 245.3L121.5 245.3L122.0 245.2L122.5 245.2L123.0 245.2L123.5 245.2L124.0 245.1L124.5 245.1L125.0 245.1L125.5 245.0L126.0 245.0L126.5 245.0L127.0 245.0L127.5 244.9L128.0 244.9L128.5 244.9L129.0 244.9L129.5 244.8L130.0 244.8L130.5 244.8L131.0 244.7L131.5 244.7L132.0 244.7L132.5 244.7L133.0 244.6L133.5 244.6L134.0 244.6L134.5 244.6L135.0 244.5L135.5 244.5L136.0 244.5L136.5 244.4L137.0 244.4L137.5 244.4L138.0 244.4L138.5 244.3L139.0 244.3L139.5 244.3L140.0 244.2L140.5 244.2L141.0 244.2L141.5 244.1L142.0 244.1L142.5 244.1L143.0 244.1L143.5 244.0L144.0 244.0L144.5 244.0L145.0 243.9L145.5 243.9L146.0 243.9L146.5 243.8L147.0 243.8L147.5 243.8L148.0 243.7L148.5 243.7L149.0 243.7L149.5 243.6L150.0 243.6L150.5 243.6L151.0 243.5L151.5 243.5L152.0 243.5L152.5 243.4L153.0 243.4L153.5 243.4L154.0 243.3L154.5 243.3L155.0 243.3L155.5 243.2L156.0 243.2L156.5 243.1L157.0 243.1L157.5 243.1L158.0 243.0L158.5 243.0L159.0 243.0L159.5 242.9L160.0 242.9L160.5 242.9L161.0 242.8L161.5 242.8L162.0 242.7L162.5 242.7L163.0 242.7L163.5 242.6L164.0 242.6L164.5 242.6L165.0 242.5L165.5 242.5L166.0 242.4L166.5 242.4L167.0 242.4L167.5 242.3L168.0 242.3L168.5 242.3L169.0 242.2L169.5 242.2L170.0 242.1L170.5 242.1L171.0 242.1L171.5 242.0L172.0 242.0L172.5 242.0L173.0 241.9L173.5 241.9L174.0 241.8L174.5 241.8L175.0 241.8L175.5 241.7L176.0 241.7L176.5 241.6L177.0 241.6L177.5 241.6L178.0 241.5L178.5 241.5L179.0 241.5L179.5 241.4L180.0 241.4L180.5 241.3L181.0 241.3L181.5 241.3L182.0 241.2L182.5 241.2L183.0 241.1L183.5 241.1L184.0 241.1L184.5 241.0L185.0 241.0L185.5 240.9L186.0 240.9L186.5 240.9L187.0 240.8L187.5 240.8L188.0 240.8L188.5 240.7L189.0 240.7L189.5 240.6L190.0 240.6L190.5 240.6L191.0 240.5L191.5 240.5L192.0 240.4L192.5 240.4L193.0 240.4L193.5 240.3L194.0 240.3L194.5 240.2L195.0 240.2L195.5 240.2L196.0 240.1L196.5 240.1L197.0 240.1L197.5 240.0L198.0 240.0L198.5 239.9L199.0 239.9L199.5 239.9L200.0 239.8L200.5 239.8L201.0 239.7L201.5 239.7L202.0 239.7L202.5 239.6L203.0 239.6L203.5 239.5L204.0 239.5L204.5 239.5L205.0 239.4L205.5 239.4L206.0 239.3L206.5 239.3L207.0 239.3L207.5 239.2L208.0 239.2L208.5 239.1L209.0 239.1L209.5 239.1L210.0 239.0L210.5 239.0L211.0 238.9L211.5 238.9L212.0 238.9L212.5 238.8L213.0 238.8L213.5 238.7L214.0 238.7L214.5 238.7L215.0 238.6L215.5 238.6L216.0 238.5L216.5 238.5L217.0 238.5L217.5 238.4L218.0 238.4L218.5 238.3L219.0 238.3L219.5 238.3L220.0 238.2L220.5 238.2L221.0 238.1L221.5 238.1L222.0 238.1L222.5 238.0L223.0 238.0L223.5 237.9L224.0 237.9L224.5 237.9L225.0 237.8L225.5 237.8L226.0 237.7L226.5 237.7L227.0 237.6L227.5 237.6L228.0 237.6L228.5 237.5L229.0 237.5L229.5 237.4L230.0 237.4L230.5 237.4L231.0 237.3L231.5 237.3L232.0 237.2L232.5 237.2L233.0 237.2L233.5 237.1L234.0 237.1L234.5 237.0L235.0 237.0L235.5 236.9L236.0 236.9L236.5 236.9L237.0 236.8L237.5 236.8L238.0 236.7L238.5 236.7L239.0 236.7L239.5 236.6L240.0 236.6L240.5 236.5L241.0 236.5L241.5 236.4L242.0 236.4L242.5 236.4L243.0 236.3L243.5 236.3L244.0 236.2L244.5 236.2L245.0 236.1L245.5 236.1L246.0 236.1L246.5 236.0L247.0 236.0L247.5 235.9L248.0 235.9L248.5 235.8L249.0 235.8L249.5 235.7L250.0 235.7L250.5 235.7L251.0 235.6L251.5 235.6L252.0 235.5L252.5 235.5L253.0 235.4L253.5 235.4L254.0 235.3L254.5 235.3L255.0 235.2L255.5 235.2L256.0 235.1L256.5 235.1L257.0 235.0L257.5 235.0L258.0 234.9L258.5 234.9L259.0 234.8L259.5 234.8L260.0 234.7L260.5 234.7L261.0 234.6L261.5 234.6L262.0 234.5L262.5 234.4L263.0 234.4L263.5 234.3L264.0 234.3L264.5 234.2L265.0 234.2L265.5 234.1L266.0 234.1L266.5 234.0L267.0 234.0L267.5 233.9L268.0 233.9L268.5 233.8L269.0 233.8L269.5 233.7L270.0 233.7L270.5 233.6L271.0 233.5L271.5 233.5L272.0 233.4L272.5 233.4L273.0 233.3L273.5 233.3L274.0 233.2L274.5 233.2L275.0 233.1L275.5 233.1L276.0 233.0L276.5 233.0L277.0 232.9L277.5 232.9L278.0 232.8L278.5 232.8L279.0 232.7L279.5 232.7L280.0 232.6L280.5 232.6L281.0 232.5L281.5 232.5L282.0 232.4L282.5 232.4L283.0 232.3L283.5 232.3L284.0 232.2L284.5 232.2L285.0 232.2L285.5 232.1L286.0 232.1L286.5 232.0L287.0 232.0L287.5 232.0L288.0 231.9L288.5 231.9L289.0 231.9L289.5 231.8L290.0 231.8L290.5 231.8L291.0 231.7L291.5 231.7L292.0 231.7L292.5 231.7L293.0 231.6L293.5 231.6L294.0 231.6L294.5 231.6L295.0 231.6L295.5 231.6L296.0 231.5L296.5 231.5L297.0 231.5L297.5 231.5L298.0 231.5L298.5 231.5L299.0 231.5L299.5 231.5L300.0 231.5L300.5 231.5L301.0 231.5L301.5 231.4L302.0 231.4L302.5 231.4L303.0 231.3L303.5 231.2L304.0 231.1L304.5 230.9L305.0 230.6L305.5 230.3L306.0 229.8L306.5 229.2L307.0 228.5L307.5 227.5L308.0 226.2L308.5 224.6L309.0 222.7L309.5 220.4L310.0 217.6L310.5 214.3L311.0 210.4L311.5 206.1L312.0 201.2L312.5 195.8L313.0 189.9L313.5 183.7L314.0 177.3L314.5 170.7L315.0 164.1L315.5 157.8L316.0 151.8L316.5 146.5L317.0 141.8L317.5 138.1L318.0 135.4L318.5 133.9L319.0 133.5L319.5 134.0L320.0 135.2L320.5 137.0L321.0 139.4L321.5 142.3L322.0 145.8L322.5 149.7L323.0 154.0L323.5 158.6L324.0 163.3L324.5 168.3L325.0 173.2L325.5 178.2L326.0 183.1L326.5 187.8L327.0 192.4L327.5 196.7L328.0 200.8L328.5 204.6L329.0 208.1L329.5 211.3L330.0 214.3L330.5 216.9L331.0 219.2L331.5 221.3L332.0 223.1L332.5 224.7L333.0 226.1L333.5 227.2L334.0 228.2L334.5 229.1L335.0 229.8L335.5 230.4L336.0 231.0L336.5 231.4L337.0 231.8L337.5 232.1L338.0 232.4L338.5 232.7L339.0 232.9L339.5 233.1L340.0 233.3L340.5 233.4L341.0 233.6L341.5 233.8L342.0 233.9L342.5 234.1L343.0 234.2L343.5 234.4L344.0 234.5L344.5 234.7L345.0 234.8L345.5 235.0L346.0 235.2L346.5 235.3L347.0 235.5L347.5 235.6L348.0 235.8L348.5 236.0L349.0 236.1L349.5 236.3L350.0 236.4L350.5 236.6L351.0 236.7L351.5 236.9L352.0 237.0L352.5 237.2L353.0 237.3L353.5 237.4L354.0 237.6L354.5 237.7L355.0 237.8L355.5 238.0L356.0 238.1L356.5 238.2L357.0 238.3L357.5 238.4L358.0 238.5L358.5 238.6L359.0 238.7L359.5 238.8L360.0 238.9L360.5 239.0L361.0 239.1L361.5 239.1L362.0 239.2L362.5 239.3L363.0 239.4L363.5 239.4L364.0 239.5L364.5 239.6L365.0 239.6L365.5 239.7L366.0 239.8L366.5 239.8L367.0 239.9L367.5 240.0L368.0 240.0L368.5 240.1L369.0 240.1L369.5 240.2L370.0 240.2L370.5 240.3L371.0 240.3L371.5 240.4L372.0 240.4L372.5 240.5L373.0 240.5L373.5 240.6L374.0 240.6L374.5 240.7L375.0 240.7L375.5 240.8L376.0 240.8L376.5 240.8L377.0 240.9L377.5 240.9L378.0 241.0L378.5 241.0L379.0 241.0L379.5 241.1L380.0 241.1L380.5 241.1L381.0 241.2L381.5 241.2L382.0 241.3L382.5 241.3L383.0 241.3L383.5 241.4L384.0 241.4L384.5 241.4L385.0 241.5L385.5 241.5L386.0 241.5L386.5 241.6L387.0 241.6L387.5 241.6L388.0 241.7L388.5 241.7L389.0 241.7L389.5 241.8L390.0 241.8L390.5 241.8L391.0 241.9L391.5 241.9L392.0 241.9L392.5 242.0L393.0 242.0L393.5 242.0L394.0 242.1L394.5 242.1L395.0 242.1L395.5 242.2L396.0 242.2L396.5 242.2L397.0 242.3L397.5 242.3L398.0 242.3L398.5 242.4L399.0 242.4L399.5 242.5L400.0 242.5L400.5 242.5L401.0 242.6L401.5 242.6L402.0 242.6L402.5 242.7L403.0 242.7L403.5 242.8L404.0 242.8L404.5 242.8L405.0 242.9L405.5 242.9L406.0 243.0L406.5 243.0L407.0 243.0L407.5 243.1L408.0 243.1L408.5 243.2L409.0 243.2L409.5 243.3L410.0 243.3L410.5 243.3L411.0 243.4L411.5 243.4L412.0 243.5L412.5 243.5L413.0 243.6L413.5 243.6L414.0 243.7L414.5 243.7L415.0 243.8L415.5 243.8L416.0 243.8L416.5 243.9L417.0 243.9L417.5 244.0L418.0 244.0L418.5 244.1L419.0 244.1L419.5 244.2L420.0 244.2L420.5 244.3L421.0 244.3L421.5 244.3L422.0 244.4L422.5 244.4L423.0 244.5L423.5 244.5L424.0 244.6L424.5 244.6L425.0 244.7L425.5 244.7L426.0 244.8L426.5 244.8L427.0 244.8L427.5 244.9L428.0 244.9L428.5 245.0L429.0 245.0L429.5 245.1L430.0 245.1L430.5 245.2L431.0 245.2L431.5 245.3L432.0 245.3L432.5 245.3L433.0 245.4L433.5 245.4L434.0 245.5L434.5 245.5L435.0 245.6L435.5 245.6L436.0 245.7L436.5 245.7L437.0 245.8L437.5 245.8L438.0 245.8L438.5 245.9L439.0 245.9L439.5 246.0L440.0 246.0L440.5 246.1L441.0 246.1L441.5 246.2L442.0 246.2L442.5 246.3L443.0 246.3L443.5 246.4L444.0 246.4L444.5 246.4L445.0 246.5L445.5 246.5L446.0 246.6L446.5 246.6L447.0 246.7L447.5 246.7L448.0 246.8L448.5 246.8L449.0 246.9L449.5 246.9L450.0 247.0L450.5 247.0L451.0 247.1L451.5 247.1L452.0 247.1L452.5 247.2L453.0 247.2L453.5 247.3L454.0 247.3L454.5 247.4L455.0 247.4L455.5 247.5L456.0 247.5L456.5 247.6L457.0 247.6L457.5 247.7L458.0 247.7L458.5 247.8L459.0 247.8L459.5 247.9L460.0 247.9L460.5 248.0L461.0 248.0L461.5 248.1L462.0 248.1L462.5 248.2L463.0 248.2L463.5 248.3L464.0 248.3L464.5 248.4L465.0 248.4L465.5 248.5L466.0 248.5L466.5 248.6L467.0 248.6L467.5 248.7L468.0 248.7L468.5 248.8L469.0 248.8L469.5 248.9L470.0 248.9L470.5 249.0L471.0 249.0L471.5 249.1L472.0 249.1L472.5 249.2L473.0 249.2L473.5 249.3L474.0 249.3L474.5 249.4L475.0 249.5L475.5 249.5L476.0 249.6L476.5 249.6L477.0 249.7L477.5 249.7L478.0 249.8L478.5 249.8L479.0 249.9L479.5 249.9L480.0 250.0L480.5 250.1L481.0 250.1L481.5 250.2L482.0 250.2L482.5 250.3L483.0 250.3L483.5 250.4L484.0 250.5L484.5 250.5L485.0 250.6L485.5 250.6L486.0 250.7L486.5 250.8L487.0 250.8L487.5 250.9L488.0 250.9L488.5 251.0L489.0 251.1L489.5 251.1L490.0 251.2L490.5 251.3L491.0 251.3L491.5 251.4L492.0 251.5L492.5 251.5L493.0 251.6L493.5 251.6L494.0 251.7L494.5 251.8L495.0 251.8L495.5 251.9L496.0 252.0L496.5 252.0L497.0 252.1L497.5 252.2L498.0 252.2L498.5 252.3L499.0 252.4L499.5 252.4L500.0 252.5L500.5 252.6L501.0 252.6L501.5 252.7L502.0 252.8L502.5 252.8L503.0 252.9L503.5 253.0L504.0 253.1L504.5 253.1L505.0 253.2L505.5 253.3L506.0 253.3L506.5 253.4L507.0 253.5L507.5 253.5L508.0 253.6L508.5 253.7L509.0 253.7L509.5 253.8L510.0 253.9L510.5 253.9L511.0 254.0L511.5 254.1L512.0 254.1L512.5 254.2L513.0 254.3L513.5 254.4L514.0 254.4L514.5 254.5L515.0 254.6L515.5 254.6L516.0 254.7L516.5 254.8L517.0 254.8L517.5 254.9L518.0 254.9" stroke="#7030A0" class="la"/>
<path d="M71.5 242.3L72.0 242.3L72.5 242.3L73.0 242.3L73.5 242.2L74.0 242.2L74.5 242.2L75.0 242.2L75.5 242.2L76.0 242.2L76.5 242.2L77.0 242.2L77.5 242.1L78.0 242.1L78.5 242.1L79.0 242.1L79.5 242.1L80.0 242.1L80.5 242.1L81.0 242.1L81.5 242.1L82.0 242.0L82.5 242.0L83.0 242.0L83.5 242.0L84.0 242.0L84.5 242.0L85.0 242.0L85.5 242.0L86.0 242.0L86.5 241.9L87.0 241.9L87.5 241.9L88.0 241.9L88.5 241.9L89.0 241.9L89.5 241.9L90.0 241.9L90.5 241.8L91.0 241.8L91.5 241.8L92.0 241.8L92.5 241.8L93.0 241.8L93.5 241.8L94.0 241.8L94.5 241.7L95.0 241.7L95.5 241.7L96.0 241.7L96.5 241.7L97.0 241.7L97.5 241.7L98.0 241.6L98.5 241.6L99.0 241.6L99.5 241.6L100.0 241.6L100.5 241.6L101.0 241.5L101.5 241.5L102.0 241.5L102.5 241.5L103.0 241.5L103.5 241.5L104.0 241.4L104.5 241.4L105.0 241.4L105.5 241.4L106.0 241.4L106.5 241.3L107.0 241.3L107.5 241.3L108.0 241.3L108.5 241.3L109.0 241.2L109.5 241.2L110.0 241.2L110.5 241.2L111.0 241.1L111.5 241.1L112.0 241.1L112.5 241.1L113.0 241.0L113.5 241.0L114.0 241.0L114.5 241.0L115.0 240.9L115.5 240.9L116.0 240.9L116.5 240.9L117.0 240.8L117.5 240.8L118.0 240.8L118.5 240.7L119.0 240.7L119.5 240.7L120.0 240.7L120.5 240.6L121.0 240.6L121.5 240.6L122.0 240.5L122.5 240.5L123.0 240.5L123.5 240.5L124.0 240.4L124.5 240.4L125.0 240.4L125.5 240.3L126.0 240.3L126.5 240.3L127.0 240.3L127.5 240.2L128.0 240.2L128.5 240.2L129.0 240.2L129.5 240.1L130.0 240.1L130.5 240.1L131.0 240.0L131.5 240.0L132.0 240.0L132.5 240.0L133.0 239.9L133.5 239.9L134.0 239.9L134.5 239.9L135.0 239.8L135.5 239.8L136.0 239.8L136.5 239.8L137.0 239.7L137.5 239.7L138.0 239.7L138.5 239.7L139.0 239.6L139.5 239.6L140.0 239.6L140.5 239.5L141.0 239.5L141.5 239.5L142.0 239.5L142.5 239.4L143.0 239.4L143.5 239.4L144.0 239.4L144.5 239.3L145.0 239.3L145.5 239.3L146.0 239.2L146.5 239.2L147.0 239.2L147.5 239.2L148.0 239.1L148.5 239.1L149.0 239.1L149.5 239.0L150.0 239.0L150.5 239.0L151.0 238.9L151.5 238.9L152.0 238.9L152.5 238.8L153.0 238.8L153.5 238.8L154.0 238.7L154.5 238.7L155.0 238.7L155.5 238.6L156.0 238.6L156.5 238.6L157.0 238.5L157.5 238.5L158.0 238.5L158.5 238.4L159.0 238.4L159.5 238.4L160.0 238.3L160.5 238.3L161.0 238.3L161.5 238.2L162.0 238.2L162.5 238.2L163.0 238.1L163.5 238.1L164.0 238.1L164.5 238.0L165.0 238.0L165.5 238.0L166.0 237.9L166.5 237.9L167.0 237.9L167.5 237.8L168.0 237.8L168.5 237.7L169.0 237.7L169.5 237.7L170.0 237.6L170.5 237.6L171.0 237.6L171.5 237.5L172.0 237.5L172.5 237.5L173.0 237.4L173.5 237.4L174.0 237.4L174.5 237.3L175.0 237.3L175.5 237.2L176.0 237.2L176.5 237.2L177.0 237.1L177.5 237.1L178.0 237.1L178.5 237.0L179.0 237.0L179.5 237.0L180.0 236.9L180.5 236.9L181.0 236.9L181.5 236.8L182.0 236.8L182.5 236.7L183.0 236.7L183.5 236.7L184.0 236.6L184.5 236.6L185.0 236.6L185.5 236.5L186.0 236.5L186.5 236.5L187.0 236.4L187.5 236.4L188.0 236.3L188.5 236.3L189.0 236.3L189.5 236.2L190.0 236.2L190.5 236.2L191.0 236.1L191.5 236.1L192.0 236.1L192.5 236.0L193.0 236.0L193.5 235.9L194.0 235.9L194.5 235.9L195.0 235.8L195.5 235.8L196.0 235.8L196.5 235.7L197.0 235.7L197.5 235.7L198.0 235.6L198.5 235.6L199.0 235.6L199.5 235.5L200.0 235.5L200.5 235.4L201.0 235.4L201.5 235.4L202.0 235.3L202.5 235.3L203.0 235.3L203.5 235.2L204.0 235.2L204.5 235.2L205.0 235.1L205.5 235.1L206.0 235.1L206.5 235.0L207.0 235.0L207.5 235.0L208.0 234.9L208.5 234.9L209.0 234.8L209.5 234.8L210.0 234.8L210.5 234.7L211.0 234.7L211.5 234.7L212.0 234.6L212.5 234.6L213.0 234.5L213.5 234.5L214.0 234.5L214.5 234.4L215.0 234.4L215.5 234.4L216.0 234.3L216.5 234.3L217.0 234.3L217.5 234.2L218.0 234.2L218.5 234.1L219.0 234.1L219.5 234.1L220.0 234.0L220.5 234.0L221.0 233.9L221.5 233.9L222.0 233.9L222.5 233.8L223.0 233.8L223.5 233.7L224.0 233.7L224.5 233.7L225.0 233.6L225.5 233.6L226.0 233.5L226.5 233.5L227.0 233.5L227.5 233.4L228.0 233.4L228.5 233.3L229.0 233.3L229.5 233.2L230.0 233.2L230.5 233.2L231.0 233.1L231.5 233.1L232.0 233.0L232.5 233.0L233.0 232.9L233.5 232.9L234.0 232.8L234.5 232.8L235.0 232.8L235.5 232.7L236.0 232.7L236.5 232.6L237.0 232.6L237.5 232.5L238.0 232.5L238.5 232.4L239.0 232.4L239.5 232.3L240.0 232.3L240.5 232.2L241.0 232.2L241.5 232.1L242.0 232.1L242.5 232.0L243.0 232.0L243.5 231.9L244.0 231.9L244.5 231.8L245.0 231.8L245.5 231.7L246.0 231.7L246.5 231.6L247.0 231.6L247.5 231.5L248.0 231.5L248.5 231.4L249.0 231.4L249.5 231.3L250.0 231.3L250.5 231.2L251.0 231.2L251.5 231.1L252.0 231.1L252.5 231.0L253.0 231.0L253.5 230.9L254.0 230.8L254.5 230.8L255.0 230.7L255.5 230.7L256.0 230.6L256.5 230.6L257.0 230.5L257.5 230.5L258.0 230.4L258.5 230.4L259.0 230.3L259.5 230.3L260.0 230.2L260.5 230.1L261.0 230.1L261.5 230.0L262.0 230.0L262.5 229.9L263.0 229.9L263.5 229.8L264.0 229.7L264.5 229.7L265.0 229.6L265.5 229.6L266.0 229.5L266.5 229.4L267.0 229.4L267.5 229.3L268.0 229.3L268.5 229.2L269.0 229.1L269.5 229.1L270.0 229.0L270.5 229.0L271.0 228.9L271.5 228.8L272.0 228.8L272.5 228.7L273.0 228.6L273.5 228.6L274.0 228.5L274.5 228.5L275.0 228.4L275.5 228.3L276.0 228.3L276.5 228.2L277.0 228.1L277.5 228.1L278.0 228.0L278.5 228.0L279.0 227.9L279.5 227.8L280.0 227.8L280.5 227.7L281.0 227.7L281.5 227.6L282.0 227.5L282.5 227.5L283.0 227.4L283.5 227.4L284.0 227.3L284.5 227.3L285.0 227.2L285.5 227.2L286.0 227.1L286.5 227.0L287.0 227.0L287.5 226.9L288.0 226.9L288.5 226.8L289.0 226.8L289.5 226.7L290.0 226.7L290.5 226.6L291.0 226.6L291.5 226.5L292.0 226.4L292.5 226.3L293.0 226.3L293.5 226.2L294.0 226.1L294.5 226.0L295.0 225.8L295.5 225.7L296.0 225.5L296.5 225.3L297.0 225.0L297.5 224.7L298.0 224.3L298.5 223.9L299.0 223.4L299.5 222.8L300.0 222.1L300.5 221.3L301.0 220.3L301.5 219.2L302.0 217.9L302.5 216.5L303.0 214.8L303.5 213.0L304.0 210.9L304.5 208.6L305.0 206.1L305.5 203.3L306.0 200.4L306.5 197.2L307.0 193.8L307.5 190.2L308.0 186.4L308.5 182.5L309.0 178.6L309.5 174.5L310.0 170.4L310.5 166.4L311.0 162.4L311.5 158.6L312.0 155.0L312.5 151.6L313.0 148.5L313.5 145.8L314.0 143.5L314.5 141.5L315.0 140.1L315.5 139.2L316.0 138.7L316.5 138.8L317.0 139.3L317.5 140.3L318.0 141.7L318.5 143.5L319.0 145.6L319.5 148.2L320.0 151.0L320.5 154.1L321.0 157.4L321.5 161.0L322.0 164.7L322.5 168.4L323.0 172.3L323.5 176.1L324.0 180.0L324.5 183.8L325.0 187.5L325.5 191.1L326.0 194.5L326.5 197.8L327.0 200.9L327.5 203.8L328.0 206.6L328.5 209.1L329.0 211.5L329.5 213.6L330.0 215.6L330.5 217.3L331.0 218.9L331.5 220.4L332.0 221.6L332.5 222.8L333.0 223.8L333.5 224.7L334.0 225.4L334.5 226.1L335.0 226.7L335.5 227.2L336.0 227.7L336.5 228.1L337.0 228.4L337.5 228.7L338.0 229.0L338.5 229.2L339.0 229.4L339.5 229.6L340.0 229.7L340.5 229.9L341.0 230.0L341.5 230.1L342.0 230.2L342.5 230.3L343.0 230.5L343.5 230.6L344.0 230.7L344.5 230.7L345.0 230.8L345.5 230.9L346.0 231.0L346.5 231.1L347.0 231.2L347.5 231.3L348.0 231.4L348.5 231.5L349.0 231.6L349.5 231.6L350.0 231.7L350.5 231.8L351.0 231.9L351.5 232.0L352.0 232.0L352.5 232.1L353.0 232.2L353.5 232.3L354.0 232.3L354.5 232.4L355.0 232.5L355.5 232.6L356.0 232.6L356.5 232.7L357.0 232.7L357.5 232.8L358.0 232.9L358.5 232.9L359.0 233.0L359.5 233.0L360.0 233.1L360.5 233.2L361.0 233.2L361.5 233.3L362.0 233.3L362.5 233.4L363.0 233.4L363.5 233.4L364.0 233.5L364.5 233.5L365.0 233.6L365.5 233.6L366.0 233.7L366.5 233.7L367.0 233.7L367.5 233.8L368.0 233.8L368.5 233.9L369.0 233.9L369.5 233.9L370.0 234.0L370.5 234.0L371.0 234.0L371.5 234.1L372.0 234.1L372.5 234.1L373.0 234.2L373.5 234.2L374.0 234.2L374.5 234.3L375.0 234.3L375.5 234.3L376.0 234.4L376.5 234.4L377.0 234.4L377.5 234.5L378.0 234.5L378.5 234.5L379.0 234.5L379.5 234.6L380.0 234.6L380.5 234.6L381.0 234.7L381.5 234.7L382.0 234.7L382.5 234.7L383.0 234.8L383.5 234.8L384.0 234.8L384.5 234.9L385.0 234.9L385.5 234.9L386.0 234.9L386.5 235.0L387.0 235.0L387.5 235.0L388.0 235.0L388.5 235.1L389.0 235.1L389.5 235.1L390.0 235.1L390.5 235.2L391.0 235.2L391.5 235.2L392.0 235.3L392.5 235.3L393.0 235.3L393.5 235.3L394.0 235.4L394.5 235.4L395.0 235.4L395.5 235.4L396.0 235.5L396.5 235.5L397.0 235.5L397.5 235.5L398.0 235.6L398.5 235.6L399.0 235.6L399.5 235.7L400.0 235.7L400.5 235.7L401.0 235.7L401.5 235.8L402.0 235.8L402.5 235.8L403.0 235.9L403.5 235.9L404.0 235.9L404.5 236.0L405.0 236.0L405.5 236.0L406.0 236.0L406.5 236.1L407.0 236.1L407.5 236.1L408.0 236.2L408.5 236.2L409.0 236.2L409.5 236.3L410.0 236.3L410.5 236.3L411.0 236.4L411.5 236.4L412.0 236.4L412.5 236.5L413.0 236.5L413.5 236.5L414.0 236.6L414.5 236.6L415.0 236.6L415.5 236.7L416.0 236.7L416.5 236.7L417.0 236.8L417.5 236.8L418.0 236.8L418.5 236.9L419.0 236.9L419.5 236.9L420.0 237.0L420.5 237.0L421.0 237.0L421.5 237.1L422.0 237.1L422.5 237.1L423.0 237.2L423.5 237.2L424.0 237.2L424.5 237.3L425.0 237.3L425.5 237.3L426.0 237.4L426.5 237.4L427.0 237.4L427.5 237.5L428.0 237.5L428.5 237.5L429.0 237.6L429.5 237.6L430.0 237.6L430.5 237.7L431.0 237.7L431.5 237.7L432.0 237.8L432.5 237.8L433.0 237.8L433.5 237.9L434.0 237.9L434.5 237.9L435.0 238.0L435.5 238.0L436.0 238.0L436.5 238.1L437.0 238.1L437.5 238.1L438.0 238.2L438.5 238.2L439.0 238.2L439.5 238.3L440.0 238.3L440.5 238.3L441.0 238.4L441.5 238.4L442.0 238.4L442.5 238.5L443.0 238.5L443.5 238.5L444.0 238.6L444.5 238.6L445.0 238.6L445.5 238.7L446.0 238.7L446.5 238.8L447.0 238.8L447.5 238.8L448.0 238.9L448.5 238.9L449.0 238.9L449.5 239.0L450.0 239.0L450.5 239.0L451.0 239.1L451.5 239.1L452.0 239.1L452.5 239.2L453.0 239.2L453.5 239.2L454.0 239.3L454.5 239.3L455.0 239.3L455.5 239.4L456.0 239.4L456.5 239.4L457.0 239.5L457.5 239.5L458.0 239.6L458.5 239.6L459.0 239.6L459.5 239.7L460.0 239.7L460.5 239.7L461.0 239.8L461.5 239.8L462.0 239.8L462.5 239.9L463.0 239.9L463.5 239.9L464.0 240.0L464.5 240.0L465.0 240.1L465.5 240.1L466.0 240.1L466.5 240.2L467.0 240.2L467.5 240.2L468.0 240.3L468.5 240.3L469.0 240.4L469.5 240.4L470.0 240.4L470.5 240.5L471.0 240.5L471.5 240.5L472.0 240.6L472.5 240.6L473.0 240.7L473.5 240.7L474.0 240.7L474.5 240.8L475.0 240.8L475.5 240.8L476.0 240.9L476.5 240.9L477.0 241.0L477.5 241.0L478.0 241.0L478.5 241.1L479.0 241.1L479.5 241.2L480.0 241.2L480.5 241.2L481.0 241.3L481.5 241.3L482.0 241.4L482.5 241.4L483.0 241.4L483.5 241.5L484.0 241.5L484.5 241.6L485.0 241.6L485.5 241.7L486.0 241.7L486.5 241.7L487.0 241.8L487.5 241.8L488.0 241.9L488.5 241.9L489.0 242.0L489.5 242.0L490.0 242.0L490.5 242.1L491.0 242.1L491.5 242.2L492.0 242.2L492.5 242.3L493.0 242.3L493.5 242.4L494.0 242.4L494.5 242.5L495.0 242.5L495.5 242.5L496.0 242.6L496.5 242.6L497.0 242.7L497.5 242.7L498.0 242.8L498.5 242.8L499.0 242.9L499.5 242.9L500.0 243.0L500.5 243.0L501.0 243.1L501.5 243.1L502.0 243.2L502.5 243.2L503.0 243.2L503.5 243.3L504.0 243.3L504.5 243.4L505.0 243.4L505.5 243.5L506.0 243.5L506.5 243.6L507.0 243.6L507.5 243.7L508.0 243.7L508.5 243.8L509.0 243.8L509.5 243.9L510.0 243.9L510.5 244.0L511.0 244.0L511.5 244.1L512.0 244.1L512.5 244.2L513.0 244.2L513.5 244.2L514.0 244.3L514.5 244.3L515.0 244.4L515.5 244.4L516.0 244.5L516.5 244.5L517.0 244.6L517.5 244.6L518.0 244.7" stroke="#FFC000" class="la"/>
<path d="M71.5 244.9L72.0 244.9L72.5 244.9L73.0 244.9L73.5 244.9L74.0 244.9L74.5 244.8L75.0 244.8L75.5 244.8L76.0 244.8L76.5 244.8L77.0 244.8L77.5 244.8L78.0 244.8L78.5 244.8L79.0 244.8L79.5 244.8L80.0 244.8L80.5 244.8L81.0 244.8L81.5 244.7L82.0 244.7L82.5 244.7L83.0 244.7L83.5 244.7L84.0 244.7L84.5 244.7L85.0 244.7L85.5 244.7L86.0 244.7L86.5 244.7L87.0 244.7L87.5 244.7L88.0 244.7L88.5 244.6L89.0 244.6L89.5 244.6L90.0 244.6L90.5 244.6L91.0 244.6L91.5 244.6L92.0 244.6L92.5 244.6L93.0 244.6L93.5 244.6L94.0 244.6L94.5 244.5L95.0 244.5L95.5 244.5L96.0 244.5L96.5 244.5L97.0 244.5L97.5 244.5L98.0 244.5L98.5 244.5L99.0 244.5L99.5 244.4L100.0 244.4L100.5 244.4L101.0 244.4L101.5 244.4L102.0 244.4L102.5 244.4L103.0 244.4L103.5 244.3L104.0 244.3L104.5 244.3L105.0 244.3L105.5 244.3L106.0 244.3L106.5 244.3L107.0 244.2L107.5 244.2L108.0 244.2L108.5 244.2L109.0 244.2L109.5 244.1L110.0 244.1L110.5 244.1L111.0 244.1L111.5 244.1L112.0 244.1L112.5 244.0L113.0 244.0L113.5 244.0L114.0 244.0L114.5 243.9L115.0 243.9L115.5 243.9L116.0 243.9L116.5 243.9L117.0 243.8L117.5 243.8L118.0 243.8L118.5 243.8L119.0 243.7L119.5 243.7L120.0 243.7L120.5 243.7L121.0 243.7L121.5 243.6L122.0 243.6L122.5 243.6L123.0 243.6L123.5 243.5L124.0 243.5L124.5 243.5L125.0 243.5L125.5 243.4L126.0 243.4L126.5 243.4L127.0 243.4L127.5 243.3L128.0 243.3L128.5 243.3L129.0 243.3L129.5 243.2L130.0 243.2L130.5 243.2L131.0 243.1L131.5 243.1L132.0 243.1L132.5 243.1L133.0 243.0L133.5 243.0L134.0 243.0L134.5 243.0L135.0 242.9L135.5 242.9L136.0 242.9L136.5 242.8L137.0 242.8L137.5 242.8L138.0 242.8L138.5 242.7L139.0 242.7L139.5 242.7L140.0 242.6L140.5 242.6L141.0 242.6L141.5 242.5L142.0 242.5L142.5 242.5L143.0 242.5L143.5 242.4L144.0 242.4L144.5 242.4L145.0 242.3L145.5 242.3L146.0 242.3L146.5 242.2L147.0 242.2L147.5 242.2L148.0 242.1L148.5 242.1L149.0 242.1L149.5 242.0L150.0 242.0L150.5 242.0L151.0 241.9L151.5 241.9L152.0 241.9L152.5 241.8L153.0 241.8L153.5 241.8L154.0 241.7L154.5 241.7L155.0 241.7L155.5 241.6L156.0 241.6L156.5 241.5L157.0 241.5L157.5 241.5L158.0 241.4L158.5 241.4L159.0 241.4L159.5 241.3L160.0 241.3L160.5 241.2L161.0 241.2L161.5 241.2L162.0 241.1L162.5 241.1L163.0 241.1L163.5 241.0L164.0 241.0L164.5 240.9L165.0 240.9L165.5 240.9L166.0 240.8L166.5 240.8L167.0 240.8L167.5 240.7L168.0 240.7L168.5 240.6L169.0 240.6L169.5 240.6L170.0 240.5L170.5 240.5L171.0 240.5L171.5 240.4L172.0 240.4L172.5 240.3L173.0 240.3L173.5 240.3L174.0 240.2L174.5 240.2L175.0 240.2L175.5 240.1L176.0 240.1L176.5 240.0L177.0 240.0L177.5 240.0L178.0 239.9L178.5 239.9L179.0 239.9L179.5 239.8L180.0 239.8L180.5 239.7L181.0 239.7L181.5 239.7L182.0 239.6L182.5 239.6L183.0 239.6L183.5 239.5L184.0 239.5L184.5 239.5L185.0 239.4L185.5 239.4L186.0 239.4L186.5 239.3L187.0 239.3L187.5 239.3L188.0 239.2L188.5 239.2L189.0 239.2L189.5 239.1L190.0 239.1L190.5 239.1L191.0 239.0L191.5 239.0L192.0 239.0L192.5 238.9L193.0 238.9L193.5 238.9L194.0 238.9L194.5 238.8L195.0 238.8L195.5 238.8L196.0 238.7L196.5 238.7L197.0 238.7L197.5 238.7L198.0 238.6L198.5 238.6L199.0 238.6L199.5 238.6L200.0 238.5L200.5 238.5L201.0 238.5L201.5 238.4L202.0 238.4L202.5 238.4L203.0 238.4L203.5 238.3L204.0 238.3L204.5 238.3L205.0 238.3L205.5 238.2L206.0 238.2L206.5 238.2L207.0 238.2L207.5 238.1L208.0 238.1L208.5 238.1L209.0 238.1L209.5 238.0L210.0 238.0L210.5 238.0L211.0 238.0L211.5 237.9L212.0 237.9L212.5 237.9L213.0 237.9L213.5 237.8L214.0 237.8L214.5 237.8L215.0 237.8L215.5 237.7L216.0 237.7L216.5 237.7L217.0 237.7L217.5 237.6L218.0 237.6L218.5 237.6L219.0 237.6L219.5 237.5L220.0 237.5L220.5 237.5L221.0 237.4L221.5 237.4L222.0 237.4L222.5 237.4L223.0 237.3L223.5 237.3L224.0 237.3L224.5 237.3L225.0 237.2L225.5 237.2L226.0 237.2L226.5 237.1L227.0 237.1L227.5 237.1L228.0 237.0L228.5 237.0L229.0 237.0L229.5 236.9L230.0 236.9L230.5 236.9L231.0 236.8L231.5 236.8L232.0 236.8L232.5 236.7L233.0 236.7L233.5 236.6L234.0 236.6L234.5 236.6L235.0 236.5L235.5 236.5L236.0 236.4L236.5 236.4L237.0 236.4L237.5 236.3L238.0 236.3L238.5 236.2L239.0 236.2L239.5 236.2L240.0 236.1L240.5 236.1L241.0 236.0L241.5 236.0L242.0 235.9L242.5 235.9L243.0 235.8L243.5 235.8L244.0 235.8L244.5 235.7L245.0 235.7L245.5 235.6L246.0 235.6L246.5 235.5L247.0 235.5L247.5 235.4L248.0 235.4L248.5 235.3L249.0 235.3L249.5 235.2L250.0 235.2L250.5 235.2L251.0 235.1L251.5 235.1L252.0 235.0L252.5 235.0L253.0 234.9L253.5 234.9L254.0 234.8L254.5 234.8L255.0 234.7L255.5 234.7L256.0 234.6L256.5 234.6L257.0 234.5L257.5 234.5L258.0 234.4L258.5 234.4L259.0 234.3L259.5 234.3L260.0 234.2L260.5 234.2L261.0 234.1L261.5 234.1L262.0 234.0L262.5 233.9L263.0 233.9L263.5 233.8L264.0 233.8L264.5 233.7L265.0 233.7L265.5 233.6L266.0 233.6L266.5 233.5L267.0 233.4L267.5 233.4L268.0 233.3L268.5 233.3L269.0 233.2L269.5 233.1L270.0 233.1L270.5 233.0L271.0 233.0L271.5 232.9L272.0 232.8L272.5 232.8L273.0 232.7L273.5 232.7L274.0 232.6L274.5 232.6L275.0 232.5L275.5 232.4L276.0 232.4L276.5 232.3L277.0 232.3L277.5 232.2L278.0 232.1L278.5 232.1L279.0 232.0L279.5 231.9L280.0 231.8L280.5 231.7L281.0 231.6L281.5 231.5L282.0 231.4L282.5 231.2L283.0 231.1L283.5 230.9L284.0 230.7L284.5 230.4L285.0 230.1L285.5 229.8L286.0 229.5L286.5 229.0L287.0 228.6L287.5 228.0L288.0 227.4L288.5 226.7L289.0 225.9L289.5 225.0L290.0 224.0L290.5 222.9L291.0 221.6L291.5 220.3L292.0 218.7L292.5 217.1L293.0 215.3L293.5 213.4L294.0 211.3L294.5 209.0L295.0 206.7L295.5 204.2L296.0 201.5L296.5 198.8L297.0 196.0L297.5 193.1L298.0 190.2L298.5 187.2L299.0 184.2L299.5 181.3L300.0 178.4L300.5 175.6L301.0 172.9L301.5 170.4L302.0 168.0L302.5 165.8L303.0 163.9L303.5 162.2L304.0 160.8L304.5 159.7L305.0 158.9L305.5 158.4L306.0 158.3L306.5 158.5L307.0 159.0L307.5 159.7L308.0 160.8L308.5 162.2L309.0 163.8L309.5 165.6L310.0 167.7L310.5 170.0L311.0 172.4L311.5 175.0L312.0 177.7L312.5 180.5L313.0 183.3L313.5 186.2L314.0 189.1L314.5 192.0L315.0 194.8L315.5 197.6L316.0 200.4L316.5 203.0L317.0 205.5L317.5 207.9L318.0 210.2L318.5 212.4L319.0 214.4L319.5 216.3L320.0 218.1L320.5 219.8L321.0 221.3L321.5 222.6L322.0 223.9L322.5 225.0L323.0 226.1L323.5 227.0L324.0 227.9L324.5 228.6L325.0 229.3L325.5 229.9L326.0 230.4L326.5 230.9L327.0 231.4L327.5 231.7L328.0 232.1L328.5 232.4L329.0 232.7L329.5 232.9L330.0 233.1L330.5 233.3L331.0 233.5L331.5 233.7L332.0 233.9L332.5 234.0L333.0 234.1L333.5 234.3L334.0 234.4L334.5 234.5L335.0 234.6L335.5 234.7L336.0 234.8L336.5 234.9L337.0 235.0L337.5 235.1L338.0 235.2L338.5 235.3L339.0 235.3L339.5 235.4L340.0 235.5L340.5 235.6L341.0 235.6L341.5 235.7L342.0 235.8L342.5 235.8L343.0 235.9L343.5 236.0L344.0 236.0L344.5 236.1L345.0 236.2L345.5 236.2L346.0 236.3L346.5 236.4L347.0 236.4L347.5 236.5L348.0 236.5L348.5 236.6L349.0 236.6L349.5 236.7L350.0 236.7L350.5 236.8L351.0 236.8L351.5 236.9L352.0 237.0L352.5 237.0L353.0 237.1L353.5 237.1L354.0 237.1L354.5 237.2L355.0 237.2L355.5 237.3L356.0 237.3L356.5 237.4L357.0 237.4L357.5 237.5L358.0 237.5L358.5 237.6L359.0 237.6L359.5 237.7L360.0 237.7L360.5 237.7L361.0 237.8L361.5 237.8L362.0 237.9L362.5 237.9L363.0 238.0L363.5 238.0L364.0 238.0L364.5 238.1L365.0 238.1L365.5 238.2L366.0 238.2L366.5 238.2L367.0 238.3L367.5 238.3L368.0 238.3L368.5 238.4L369.0 238.4L369.5 238.5L370.0 238.5L370.5 238.5L371.0 238.6L371.5 238.6L372.0 238.6L372.5 238.7L373.0 238.7L373.5 238.7L374.0 238.8L374.5 238.8L375.0 238.8L375.5 238.9L376.0 238.9L376.5 238.9L377.0 239.0L377.5 239.0L378.0 239.0L378.5 239.1L379.0 239.1L379.5 239.1L380.0 239.2L380.5 239.2L381.0 239.2L381.5 239.3L382.0 239.3L382.5 239.3L383.0 239.4L383.5 239.4L384.0 239.4L384.5 239.5L385.0 239.5L385.5 239.5L386.0 239.5L386.5 239.6L387.0 239.6L387.5 239.6L388.0 239.7L388.5 239.7L389.0 239.7L389.5 239.8L390.0 239.8L390.5 239.8L391.0 239.9L391.5 239.9L392.0 239.9L392.5 240.0L393.0 240.0L393.5 240.0L394.0 240.1L394.5 240.1L395.0 240.1L395.5 240.1L396.0 240.2L396.5 240.2L397.0 240.2L397.5 240.3L398.0 240.3L398.5 240.3L399.0 240.4L399.5 240.4L400.0 240.4L400.5 240.5L401.0 240.5L401.5 240.5L402.0 240.6L402.5 240.6L403.0 240.6L403.5 240.7L404.0 240.7L404.5 240.7L405.0 240.8L405.5 240.8L406.0 240.8L406.5 240.9L407.0 240.9L407.5 240.9L408.0 241.0L408.5 241.0L409.0 241.0L409.5 241.1L410.0 241.1L410.5 241.1L411.0 241.2L411.5 241.2L412.0 241.2L412.5 241.3L413.0 241.3L413.5 241.3L414.0 241.4L414.5 241.4L415.0 241.4L415.5 241.5L416.0 241.5L416.5 241.5L417.0 241.6L417.5 241.6L418.0 241.6L418.5 241.7L419.0 241.7L419.5 241.7L420.0 241.8L420.5 241.8L421.0 241.8L421.5 241.9L422.0 241.9L422.5 241.9L423.0 242.0L423.5 242.0L424.0 242.1L424.5 242.1L425.0 242.1L425.5 242.2L426.0 242.2L426.5 242.2L427.0 242.3L427.5 242.3L428.0 242.3L428.5 242.4L429.0 242.4L429.5 242.4L430.0 242.5L430.5 242.5L431.0 242.5L431.5 242.6L432.0 242.6L432.5 242.6L433.0 242.7L433.5 242.7L434.0 242.7L434.5 242.8L435.0 242.8L435.5 242.8L436.0 242.9L436.5 242.9L437.0 242.9L437.5 243.0L438.0 243.0L438.5 243.0L439.0 243.1L439.5 243.1L440.0 243.1L440.5 243.2L441.0 243.2L441.5 243.2L442.0 243.3L442.5 243.3L443.0 243.3L443.5 243.4L444.0 243.4L444.5 243.4L445.0 243.5L445.5 243.5L446.0 243.5L446.5 243.6L447.0 243.6L447.5 243.6L448.0 243.7L448.5 243.7L449.0 243.7L449.5 243.8L450.0 243.8L450.5 243.8L451.0 243.9L451.5 243.9L452.0 243.9L452.5 244.0L453.0 244.0L453.5 244.0L454.0 244.1L454.5 244.1L455.0 244.2L455.5 244.2L456.0 244.2L456.5 244.3L457.0 244.3L457.5 244.3L458.0 244.4L458.5 244.4L459.0 244.4L459.5 244.5L460.0 244.5L460.5 244.5L461.0 244.6L461.5 244.6L462.0 244.6L462.5 244.7L463.0 244.7L463.5 244.8L464.0 244.8L464.5 244.8L465.0 244.9L465.5 244.9L466.0 244.9L466.5 245.0L467.0 245.0L467.5 245.0L468.0 245.1L468.5 245.1L469.0 245.2L469.5 245.2L470.0 245.2L470.5 245.3L471.0 245.3L471.5 245.3L472.0 245.4L472.5 245.4L473.0 245.5L473.5 245.5L474.0 245.5L474.5 245.6L475.0 245.6L475.5 245.6L476.0 245.7L476.5 245.7L477.0 245.8L477.5 245.8L478.0 245.8L478.5 245.9L479.0 245.9L479.5 246.0L480.0 246.0L480.5 246.0L481.0 246.1L481.5 246.1L482.0 246.2L482.5 246.2L483.0 246.2L483.5 246.3L484.0 246.3L484.5 246.4L485.0 246.4L485.5 246.5L486.0 246.5L486.5 246.5L487.0 246.6L487.5 246.6L488.0 246.7L488.5 246.7L489.0 246.8L489.5 246.8L490.0 246.8L490.5 246.9L491.0 246.9L491.5 247.0L492.0 247.0L492.5 247.1L493.0 247.1L493.5 247.2L494.0 247.2L494.5 247.3L495.0 247.3L495.5 247.3L496.0 247.4L496.5 247.4L497.0 247.5L497.5 247.5L498.0 247.6L498.5 247.6L499.0 247.7L499.5 247.7L500.0 247.8L500.5 247.8L501.0 247.9L501.5 247.9L502.0 248.0L502.5 248.0L503.0 248.0L503.5 248.1L504.0 248.1L504.5 248.2L505.0 248.2L505.5 248.3L506.0 248.3L506.5 248.4L507.0 248.4L507.5 248.5L508.0 248.5L508.5 248.6L509.0 248.6L509.5 248.7L510.0 248.7L510.5 248.8L511.0 248.8L511.5 248.9L512.0 248.9L512.5 249.0L513.0 249.0L513.5 249.0L514.0 249.1L514.5 249.1L515.0 249.2L515.5 249.2L516.0 249.3L516.5 249.3L517.0 249.4L517.5 249.4L518.0 249.5" stroke="#00B0F0" class="la"/>
</g>
<line x1="435.3" y1="29.4" x2="450.6" y2="29.4" stroke="#FF0000" stroke-width="2.2"/>
<text x="451.8" y="33.4" class="lg" textLength="53.8" lengthAdjust="spacingAndGlyphs">TPS/ASP-1</text>
<line x1="435.3" y1="48.2" x2="450.6" y2="48.2" stroke="#595959" stroke-width="2.2"/>
<text x="451.8" y="52.2" class="lg" textLength="53.8" lengthAdjust="spacingAndGlyphs">TPS/ASP-2</text>
<line x1="435.3" y1="67.0" x2="450.6" y2="67.0" stroke="#9BBB59" stroke-width="2.2"/>
<text x="451.8" y="71.0" class="lg" textLength="53.8" lengthAdjust="spacingAndGlyphs">TPS/ASP-3</text>
<line x1="435.3" y1="85.8" x2="450.6" y2="85.8" stroke="#7030A0" stroke-width="2.2"/>
<text x="451.8" y="89.8" class="lg" textLength="53.8" lengthAdjust="spacingAndGlyphs">TPS/ASP-4</text>
<line x1="435.3" y1="104.6" x2="450.6" y2="104.6" stroke="#FFC000" stroke-width="2.2"/>
<text x="451.8" y="108.6" class="lg" textLength="53.8" lengthAdjust="spacingAndGlyphs">TPS/ASP-5</text>
<line x1="435.3" y1="123.4" x2="450.6" y2="123.4" stroke="#00B0F0" stroke-width="2.2"/>
<text x="451.8" y="127.4" class="lg" textLength="53.8" lengthAdjust="spacingAndGlyphs">TPS/ASP-6</text>
<text x="232.6" y="347.6" class="ti" textLength="122.2" lengthAdjust="spacingAndGlyphs">Temperature (°C)</text>
<text transform="translate(27.9,219.9) rotate(-90)" class="ti" textLength="112.2" lengthAdjust="spacingAndGlyphs">Heat flow (mW)</text>
<text x="274.3" y="372.0" class="cap" text-anchor="middle">(<tspan class="cb">a</tspan>)</text>
<!-- chart B -->
<path d="M75.9 391.5H521.5V673.5H75.9Z" class="ax"/>
<line x1="71.2" y1="391.50" x2="80.5" y2="391.50" class="tk"/>
<text x="62.6" y="395.3" class="tl" text-anchor="end" textLength="7.10" lengthAdjust="spacingAndGlyphs">0</text>
<line x1="71.2" y1="532.40" x2="80.5" y2="532.40" class="tk"/>
<text x="62.6" y="536.9" class="tl" text-anchor="end" textLength="22.00" lengthAdjust="spacingAndGlyphs">-0.5</text>
<line x1="71.2" y1="673.50" x2="80.5" y2="673.50" class="tk"/>
<text x="62.6" y="677.9" class="tl" text-anchor="end" textLength="11.40" lengthAdjust="spacingAndGlyphs">-1</text>
<line x1="75.90" y1="669.1" x2="75.90" y2="677.8" class="tk"/>
<text x="75.90" y="696.7" class="tl" text-anchor="middle" textLength="21.30" lengthAdjust="spacingAndGlyphs">120</text>
<line x1="165.30" y1="669.1" x2="165.30" y2="677.8" class="tk"/>
<text x="165.30" y="696.7" class="tl" text-anchor="middle" textLength="21.30" lengthAdjust="spacingAndGlyphs">140</text>
<line x1="254.00" y1="669.1" x2="254.00" y2="677.8" class="tk"/>
<text x="254.00" y="696.7" class="tl" text-anchor="middle" textLength="21.30" lengthAdjust="spacingAndGlyphs">160</text>
<line x1="342.60" y1="669.1" x2="342.60" y2="677.8" class="tk"/>
<text x="342.60" y="696.7" class="tl" text-anchor="middle" textLength="21.30" lengthAdjust="spacingAndGlyphs">180</text>
<line x1="432.00" y1="669.1" x2="432.00" y2="677.8" class="tk"/>
<text x="432.00" y="696.7" class="tl" text-anchor="middle" textLength="21.30" lengthAdjust="spacingAndGlyphs">200</text>
<line x1="521.50" y1="669.1" x2="521.50" y2="677.8" class="tk"/>
<text x="521.50" y="696.7" class="tl" text-anchor="middle" textLength="21.30" lengthAdjust="spacingAndGlyphs">220</text>
<g>
<path d="M75.8 494.7L77.9 494.7L80.0 494.7L82.1 494.7L84.2 494.7L86.3 494.7L88.4 494.7L90.5 494.7L92.6 494.7L94.7 494.7L96.8 494.8L98.9 494.8L100.9 494.8L103.0 494.8L105.0 494.9L106.8 495.0L108.7 495.0L110.4 495.1L112.2 495.2L114.0 495.3L115.7 495.4L117.5 495.5L119.2 495.6L121.0 495.7L122.7 495.8L124.5 495.9L126.3 496.0L128.1 496.1L130.0 496.2L132.1 496.3L134.3 496.4L136.5 496.5L138.8 496.6L141.2 496.6L143.5 496.7L145.8 496.8L148.1 496.9L150.4 497.0L152.5 497.1L154.6 497.2L156.5 497.3L158.3 497.4L160.0 497.5L160.9 497.6L161.7 497.7L162.4 497.7L163.2 497.8L163.8 497.9L164.5 498.0L165.1 498.1L165.8 498.2L166.4 498.3L167.0 498.4L167.7 498.5L168.4 498.5L169.2 498.6L170.0 498.7L171.2 498.8L172.5 498.9L173.9 499.0L175.3 499.0L176.8 499.1L178.2 499.2L179.7 499.3L181.3 499.3L182.8 499.4L184.3 499.5L185.8 499.5L187.2 499.6L188.6 499.7L190.0 499.8L191.2 499.9L192.3 500.0L193.5 500.1L194.6 500.2L195.7 500.3L196.9 500.4L198.0 500.5L199.1 500.6L200.1 500.7L201.2 500.8L202.2 500.9L203.2 501.0L204.1 501.1L205.0 501.2L205.6 501.3L206.2 501.4L206.8 501.5L207.3 501.6L207.9 501.7L208.4 501.8L208.9 501.9L209.4 502.0L209.9 502.1L210.4 502.2L210.9 502.3L211.4 502.5L211.9 502.6L212.4 502.7L212.8 502.8L213.3 502.9L213.7 503.1L214.1 503.2L214.5 503.3L215.0 503.5L215.4 503.6L215.8 503.8L216.2 503.9L216.6 504.0L217.0 504.2L217.4 504.3L217.8 504.5L218.2 504.6L218.6 504.7L219.0 504.9L219.3 505.0L219.7 505.1L220.1 505.2L220.4 505.3L220.8 505.4L221.2 505.6L221.5 505.7L221.9 505.8L222.3 506.0L222.6 506.1L223.0 506.2L223.4 506.4L223.8 506.6L224.2 506.7L224.7 506.9L225.1 507.1L225.6 507.3L226.0 507.5L226.4 507.7L226.9 507.9L227.3 508.1L227.7 508.3L228.1 508.6L228.5 508.8L228.9 509.0L229.3 509.3L229.6 509.6L230.0 509.8L230.3 510.1L230.7 510.4L231.0 510.7L231.3 510.9L231.6 511.2L231.9 511.6L232.2 511.9L232.5 512.2L232.7 512.5L233.0 512.8L233.3 513.2L233.5 513.5L233.7 513.8L233.9 514.2L234.1 514.5L234.3 514.9L234.5 515.2L234.6 515.6L234.8 516.0L234.9 516.3L235.1 516.7L235.2 517.1L235.4 517.4L235.5 517.8L235.7 518.1L235.8 518.5L235.9 518.8L236.1 519.1L236.2 519.5L236.3 519.8L236.4 520.1L236.5 520.4L236.7 520.7L236.8 521.0L236.9 521.4L237.0 521.7L237.1 522.0L237.3 522.3L237.4 522.7L237.5 523.0L237.6 523.4L237.8 523.8L237.9 524.2L238.1 524.7L238.2 525.1L238.4 525.6L238.5 526.0L238.7 526.5L238.8 526.9L239.0 527.3L239.2 527.8L239.3 528.2L239.5 528.6L239.7 529.0L239.9 529.4L240.0 529.8L240.2 530.2L240.4 530.6L240.6 531.1L240.8 531.5L241.0 531.9L241.2 532.3L241.4 532.6L241.6 532.9L241.8 533.2L242.0 533.4L242.2 533.5L242.4 533.6L242.6 533.6L242.8 533.5L242.9 533.4L243.1 533.3L243.3 533.1L243.5 533.0L243.7 532.7L243.9 532.5L244.1 532.2L244.3 532.0L244.5 531.7L244.6 531.5L244.8 531.2L245.0 531.0L245.2 530.7L245.4 530.5L245.6 530.2L245.8 529.9L246.0 529.6L246.1 529.3L246.3 529.0L246.5 528.6L246.7 528.3L246.8 528.0L247.0 527.6L247.2 527.2L247.3 526.9L247.5 526.5L247.7 526.0L247.9 525.4L248.1 524.8L248.3 524.2L248.4 523.6L248.6 523.0L248.8 522.3L248.9 521.7L249.1 521.0L249.2 520.4L249.4 519.8L249.6 519.2L249.8 518.6L250.0 518.0L250.2 517.5L250.4 517.0L250.5 516.5L250.7 516.1L250.9 515.6L251.1 515.1L251.3 514.6L251.5 514.2L251.7 513.8L251.9 513.3L252.1 512.9L252.4 512.6L252.6 512.2L252.9 511.9L253.1 511.7L253.4 511.4L253.6 511.2L253.9 511.0L254.1 510.8L254.4 510.6L254.7 510.4L255.0 510.2L255.3 510.1L255.5 510.0L255.8 509.9L256.1 509.8L256.3 509.7L256.6 509.7L256.8 509.7L257.0 509.7L257.3 509.8L257.5 509.8L257.7 509.9L257.9 510.0L258.2 510.1L258.4 510.2L258.6 510.4L258.8 510.5L259.0 510.7L259.2 510.8L259.4 511.0L259.6 511.2L259.9 511.5L260.1 511.8L260.3 512.2L260.6 512.5L260.8 512.9L261.0 513.4L261.2 513.8L261.4 514.3L261.6 514.7L261.8 515.2L262.0 515.7L262.2 516.2L262.3 516.6L262.5 517.1L262.7 517.6L262.8 518.1L263.0 518.6L263.1 519.2L263.3 519.7L263.4 520.2L263.5 520.8L263.6 521.3L263.7 521.9L263.9 522.5L264.0 523.1L264.1 523.7L264.3 524.3L264.4 525.0L264.6 526.0L264.9 527.1L265.1 528.2L265.4 529.4L265.7 530.6L265.9 531.8L266.2 533.1L266.5 534.4L266.8 535.7L267.1 536.9L267.3 538.2L267.6 539.5L267.9 540.7L268.1 541.9L268.3 543.0L268.6 544.1L268.8 545.2L269.0 546.3L269.2 547.4L269.4 548.5L269.6 549.6L269.8 550.7L270.0 551.8L270.2 552.9L270.4 554.0L270.6 555.1L270.8 556.3L271.0 557.4L271.2 558.6L271.4 559.8L271.6 561.1L271.7 562.3L271.9 563.6L272.1 564.8L272.2 566.1L272.4 567.3L272.6 568.6L272.8 569.8L272.9 571.0L273.1 572.2L273.3 573.4L273.5 574.6L273.7 575.6L273.9 576.6L274.1 577.6L274.2 578.6L274.4 579.6L274.6 580.6L274.8 581.5L275.0 582.5L275.2 583.4L275.5 584.4L275.7 585.4L275.9 586.4L276.1 587.4L276.3 588.4L276.5 589.5L276.8 590.7L277.0 591.9L277.3 593.1L277.6 594.3L277.8 595.6L278.1 596.8L278.4 598.0L278.7 599.2L278.9 600.4L279.2 601.6L279.4 602.7L279.7 603.8L279.9 604.9L280.1 605.7L280.3 606.6L280.4 607.4L280.6 608.2L280.8 609.0L281.0 609.8L281.1 610.5L281.3 611.3L281.4 612.0L281.6 612.8L281.8 613.5L281.9 614.2L282.1 614.8L282.2 615.5L282.3 616.0L282.4 616.5L282.5 617.1L282.6 617.7L282.7 618.2L282.8 618.8L282.8 619.3L282.9 619.8L283.0 620.2L283.1 620.6L283.2 620.9L283.3 621.2L283.4 621.3L283.5 621.4L283.6 621.4L283.7 621.2L283.8 621.0L283.9 620.8L284.1 620.4L284.2 620.0L284.3 619.6L284.4 619.1L284.6 618.6L284.7 618.1L284.8 617.6L284.9 617.0L285.1 616.5L285.2 616.0L285.4 615.0L285.7 614.0L286.0 612.9L286.2 611.7L286.5 610.4L286.8 609.1L287.1 607.7L287.4 606.3L287.7 604.9L288.0 603.5L288.3 602.0L288.5 600.5L288.8 599.1L289.1 597.6L289.4 595.8L289.8 593.9L290.1 592.0L290.5 590.0L290.8 588.0L291.2 585.9L291.5 583.9L291.8 581.8L292.2 579.8L292.5 577.7L292.8 575.7L293.1 573.8L293.4 571.8L293.7 570.0L293.9 568.5L294.2 567.0L294.4 565.5L294.6 564.0L294.8 562.5L295.0 561.1L295.2 559.6L295.4 558.2L295.6 556.8L295.8 555.4L295.9 554.0L296.1 552.7L296.3 551.3L296.5 550.0L296.7 548.9L296.8 547.7L297.0 546.6L297.2 545.5L297.3 544.4L297.5 543.3L297.6 542.2L297.8 541.1L298.0 540.1L298.1 539.0L298.3 538.0L298.4 537.0L298.6 536.0L298.7 535.0L298.8 534.2L298.9 533.4L299.0 532.6L299.1 531.8L299.2 531.0L299.3 530.3L299.4 529.5L299.4 528.8L299.5 528.0L299.6 527.3L299.7 526.6L299.8 525.8L300.0 525.1L300.1 524.4L300.2 523.7L300.4 523.1L300.5 522.4L300.7 521.8L300.8 521.1L301.0 520.5L301.1 519.8L301.3 519.2L301.5 518.6L301.6 518.0L301.8 517.3L302.0 516.8L302.2 516.2L302.4 515.6L302.6 515.1L302.8 514.6L302.9 514.2L303.1 513.7L303.3 513.2L303.5 512.8L303.7 512.3L304.0 511.9L304.2 511.4L304.4 511.0L304.6 510.6L304.8 510.2L305.1 509.9L305.3 509.5L305.5 509.2L305.7 509.0L305.9 508.7L306.1 508.5L306.3 508.3L306.5 508.1L306.7 507.8L306.9 507.6L307.1 507.4L307.3 507.3L307.5 507.1L307.7 506.9L308.0 506.7L308.2 506.5L308.4 506.3L308.7 506.1L308.9 505.9L309.2 505.8L309.4 505.6L309.7 505.4L309.9 505.2L310.2 505.1L310.5 504.9L310.7 504.8L311.0 504.6L311.3 504.5L311.6 504.4L311.9 504.3L312.2 504.2L312.6 504.1L312.9 504.1L313.2 504.0L313.5 504.0L313.9 503.9L314.2 503.9L314.6 503.9L315.0 503.9L315.4 503.8L315.8 503.8L316.2 503.8L316.6 503.8L317.1 503.8L318.0 503.8L319.1 503.8L320.2 503.8L321.3 503.8L322.6 503.8L323.9 503.9L325.2 503.9L326.6 503.9L327.9 504.0L329.4 504.0L330.8 504.1L332.2 504.1L333.6 504.2L335.0 504.2L336.6 504.2L338.3 504.2L340.0 504.3L341.7 504.3L343.4 504.3L345.1 504.3L346.9 504.3L348.7 504.3L350.5 504.3L352.3 504.4L354.2 504.4L356.1 504.5L358.0 504.5L360.0 504.6L362.6 504.7L365.2 504.9L368.0 505.1L370.7 505.3L373.6 505.5L376.5 505.8L379.4 506.0L382.4 506.3L385.3 506.5L388.3 506.8L391.3 507.0L394.2 507.2L397.1 507.4L400.0 507.6L402.9 507.8L405.8 507.9L408.7 508.0L411.6 508.2L414.5 508.3L417.4 508.4L420.4 508.5L423.3 508.6L426.1 508.7L429.0 508.8L431.8 508.9L434.6 509.0L437.3 509.1L440.0 509.2L442.3 509.3L444.4 509.4L446.6 509.5L448.7 509.6L450.7 509.7L452.7 509.8L454.8 509.9L456.8 510.0L458.9 510.2L461.0 510.3L463.1 510.4L465.3 510.5L467.6 510.6L470.0 510.7L473.3 510.8L476.6 511.0L480.1 511.1L483.7 511.3L487.4 511.4L491.1 511.6L494.9 511.7L498.7 511.8L502.5 512.0L506.4 512.1L510.2 512.3L514.0 512.4L517.8 512.6L521.5 512.7" stroke="#FF0000" class="lb"/>
<path d="M75.8 501.1L77.9 501.1L80.0 501.1L82.1 501.1L84.2 501.1L86.3 501.1L88.4 501.2L90.5 501.2L92.6 501.2L94.7 501.2L96.8 501.2L98.9 501.2L100.9 501.2L103.0 501.3L105.0 501.3L106.8 501.3L108.7 501.4L110.4 501.4L112.2 501.4L114.0 501.5L115.7 501.5L117.5 501.5L119.2 501.6L121.0 501.6L122.7 501.7L124.5 501.8L126.3 501.8L128.1 501.9L130.0 502.0L132.1 502.1L134.3 502.2L136.5 502.4L138.8 502.5L141.2 502.6L143.5 502.8L145.8 503.0L148.1 503.1L150.4 503.3L152.5 503.5L154.6 503.6L156.5 503.8L158.3 503.9L160.0 504.1L160.9 504.2L161.7 504.3L162.4 504.4L163.2 504.4L163.8 504.5L164.5 504.6L165.1 504.7L165.8 504.8L166.4 504.9L167.0 504.9L167.7 505.0L168.4 505.1L169.2 505.2L170.0 505.3L171.2 505.4L172.5 505.6L173.9 505.7L175.3 505.8L176.8 506.0L178.2 506.1L179.8 506.3L181.3 506.4L182.8 506.5L184.3 506.7L185.8 506.8L187.2 507.0L188.6 507.1L190.0 507.3L191.2 507.4L192.3 507.6L193.5 507.7L194.6 507.9L195.8 508.0L196.9 508.2L198.1 508.3L199.2 508.5L200.2 508.6L201.3 508.7L202.3 508.9L203.2 509.0L204.1 509.2L205.0 509.3L205.5 509.4L206.0 509.4L206.5 509.5L206.9 509.6L207.3 509.6L207.8 509.7L208.2 509.7L208.6 509.8L209.0 509.9L209.4 509.9L209.7 510.0L210.1 510.1L210.5 510.3L210.9 510.4L211.3 510.6L211.7 510.7L212.1 510.9L212.4 511.1L212.8 511.3L213.2 511.5L213.6 511.7L213.9 511.9L214.3 512.2L214.7 512.4L215.0 512.7L215.3 512.9L215.7 513.2L216.0 513.4L216.3 513.6L216.6 513.9L216.9 514.1L217.1 514.4L217.4 514.6L217.7 514.9L217.9 515.1L218.2 515.4L218.4 515.7L218.7 516.0L218.9 516.2L219.2 516.5L219.4 516.8L219.7 517.1L220.0 517.4L220.3 517.8L220.5 518.1L220.8 518.5L221.1 518.8L221.4 519.2L221.6 519.6L221.9 519.9L222.1 520.3L222.4 520.7L222.7 521.1L222.9 521.4L223.2 521.8L223.4 522.2L223.6 522.6L223.8 522.9L224.1 523.3L224.3 523.7L224.5 524.1L224.7 524.5L224.9 524.9L225.0 525.3L225.2 525.6L225.4 526.0L225.6 526.4L225.9 526.7L226.1 527.1L226.3 527.4L226.5 527.7L226.7 528.0L226.9 528.3L227.1 528.6L227.3 528.9L227.6 529.2L227.8 529.5L228.0 529.7L228.2 530.0L228.4 530.2L228.7 530.4L228.9 530.5L229.1 530.6L229.3 530.6L229.5 530.6L229.7 530.5L229.9 530.4L230.2 530.2L230.4 530.0L230.6 529.8L230.8 529.5L231.0 529.2L231.2 528.9L231.4 528.6L231.6 528.3L231.8 528.0L232.0 527.7L232.2 527.4L232.4 527.1L232.6 526.7L232.8 526.3L233.0 525.9L233.1 525.5L233.3 525.1L233.4 524.7L233.6 524.3L233.7 523.8L233.9 523.4L234.0 522.9L234.2 522.4L234.3 522.0L234.5 521.5L234.7 520.9L234.9 520.2L235.1 519.5L235.3 518.8L235.5 518.0L235.7 517.3L235.9 516.5L236.1 515.8L236.3 515.1L236.5 514.4L236.8 513.7L237.0 513.0L237.2 512.4L237.5 511.9L237.7 511.6L237.9 511.2L238.1 510.9L238.2 510.6L238.4 510.3L238.6 510.1L238.8 509.8L239.0 509.5L239.3 509.3L239.5 509.1L239.7 508.8L239.9 508.6L240.2 508.4L240.4 508.2L240.6 508.0L240.9 507.8L241.1 507.6L241.4 507.4L241.7 507.2L242.0 507.1L242.2 506.9L242.5 506.7L242.8 506.6L243.1 506.5L243.3 506.4L243.6 506.4L243.9 506.4L244.1 506.4L244.3 506.5L244.6 506.6L244.8 506.7L245.0 506.9L245.3 507.1L245.5 507.4L245.7 507.6L245.9 507.9L246.1 508.2L246.3 508.5L246.5 508.8L246.7 509.1L246.9 509.4L247.1 509.7L247.3 510.1L247.6 510.5L247.8 510.9L248.0 511.4L248.2 511.8L248.4 512.3L248.6 512.8L248.8 513.3L249.0 513.8L249.2 514.3L249.4 514.8L249.6 515.3L249.8 515.8L250.0 516.3L250.2 516.8L250.4 517.4L250.6 517.9L250.8 518.5L251.1 519.0L251.3 519.5L251.5 520.1L251.7 520.7L251.9 521.2L252.1 521.8L252.3 522.4L252.5 523.1L252.7 523.7L252.9 524.4L253.2 525.4L253.5 526.5L253.8 527.7L254.1 528.9L254.4 530.2L254.7 531.5L255.0 532.8L255.3 534.1L255.7 535.4L256.0 536.8L256.2 538.1L256.5 539.4L256.8 540.7L257.1 541.9L257.4 543.0L257.6 544.2L257.9 545.3L258.1 546.4L258.3 547.5L258.6 548.5L258.8 549.6L259.1 550.7L259.3 551.8L259.5 552.9L259.7 554.0L260.0 555.1L260.2 556.3L260.4 557.4L260.6 558.6L260.9 559.9L261.1 561.1L261.3 562.4L261.6 563.7L261.8 565.0L262.0 566.3L262.2 567.6L262.4 568.8L262.6 570.1L262.8 571.4L263.0 572.6L263.2 573.8L263.3 575.0L263.4 576.0L263.5 577.0L263.6 578.0L263.6 579.0L263.7 579.9L263.7 580.9L263.8 581.8L263.8 582.7L263.9 583.7L263.9 584.6L264.0 585.6L264.1 586.5L264.2 587.4L264.3 588.4L264.4 589.4L264.6 590.4L264.8 591.3L265.0 592.3L265.2 593.3L265.4 594.2L265.7 595.2L265.9 596.2L266.1 597.1L266.3 598.1L266.5 599.1L266.7 600.1L266.9 601.2L267.1 602.2L267.3 603.4L267.4 604.6L267.6 605.8L267.7 607.0L267.8 608.2L267.9 609.5L268.0 610.8L268.1 612.0L268.2 613.3L268.3 614.6L268.5 615.8L268.6 617.1L268.7 618.3L268.9 619.6L269.1 620.9L269.3 622.2L269.5 623.5L269.7 624.9L269.9 626.2L270.1 627.5L270.3 628.9L270.6 630.2L270.8 631.5L271.0 632.8L271.3 634.0L271.6 635.2L271.8 636.4L272.1 637.6L272.3 638.6L272.6 639.6L272.8 640.7L273.1 641.8L273.3 642.9L273.6 643.9L273.8 645.0L274.1 645.9L274.4 646.8L274.6 647.6L274.9 648.2L275.2 648.7L275.4 649.0L275.7 649.1L276.0 649.0L276.2 648.7L276.5 648.2L276.8 647.6L277.1 646.8L277.3 645.9L277.6 645.0L277.9 643.9L278.2 642.8L278.4 641.8L278.7 640.7L278.9 639.6L279.2 638.6L279.4 637.6L279.7 636.5L279.9 635.3L280.1 634.1L280.4 633.0L280.6 631.7L280.8 630.5L281.0 629.2L281.1 628.0L281.3 626.7L281.5 625.4L281.7 624.1L281.9 622.8L282.0 621.4L282.2 620.1L282.4 618.6L282.6 617.1L282.7 615.5L282.9 613.9L283.0 612.4L283.2 610.8L283.3 609.2L283.5 607.6L283.6 605.9L283.8 604.3L284.0 602.6L284.1 601.0L284.3 599.3L284.5 597.6L284.7 595.7L285.0 593.8L285.2 591.8L285.5 589.8L285.8 587.8L286.1 585.7L286.3 583.7L286.6 581.7L286.9 579.6L287.2 577.6L287.5 575.7L287.7 573.7L288.0 571.8L288.2 570.0L288.4 568.5L288.6 567.0L288.7 565.5L288.9 564.0L289.1 562.5L289.2 561.1L289.4 559.6L289.6 558.2L289.7 556.8L289.9 555.4L290.0 554.0L290.2 552.7L290.3 551.3L290.5 550.0L290.6 548.9L290.8 547.7L290.9 546.6L291.0 545.4L291.2 544.3L291.3 543.2L291.5 542.1L291.6 541.1L291.7 540.0L291.9 538.9L292.0 537.9L292.1 536.9L292.3 536.0L292.4 535.0L292.5 534.3L292.6 533.6L292.7 532.9L292.8 532.2L292.9 531.5L293.0 530.8L293.1 530.2L293.2 529.5L293.3 528.9L293.4 528.3L293.5 527.7L293.7 527.1L293.8 526.5L293.9 525.9L294.0 525.4L294.1 525.0L294.2 524.5L294.3 524.1L294.4 523.6L294.6 523.2L294.7 522.8L294.8 522.4L294.9 522.0L295.1 521.6L295.2 521.2L295.3 520.8L295.5 520.4L295.6 520.0L295.7 519.7L295.8 519.4L296.0 519.1L296.1 518.8L296.2 518.5L296.4 518.2L296.5 517.9L296.6 517.6L296.8 517.3L296.9 517.0L297.1 516.8L297.3 516.5L297.4 516.3L297.6 516.0L297.8 515.8L298.0 515.5L298.2 515.3L298.4 515.1L298.6 514.8L298.8 514.6L299.0 514.4L299.2 514.2L299.4 514.0L299.7 513.8L299.9 513.6L300.1 513.4L300.4 513.3L300.6 513.1L300.8 512.9L301.1 512.8L301.3 512.7L301.5 512.5L301.8 512.4L302.0 512.3L302.3 512.2L302.5 512.1L302.8 512.0L303.1 511.9L303.4 511.8L303.7 511.8L304.0 511.7L304.3 511.6L304.8 511.5L305.3 511.4L305.9 511.3L306.4 511.3L307.0 511.2L307.6 511.2L308.2 511.2L308.8 511.2L309.5 511.2L310.2 511.1L310.9 511.1L311.6 511.1L312.3 511.1L313.1 511.1L314.4 511.1L315.7 511.1L317.1 511.1L318.6 511.1L320.1 511.1L321.7 511.1L323.3 511.2L325.0 511.2L326.7 511.2L328.4 511.3L330.0 511.3L331.7 511.4L333.4 511.4L335.0 511.5L336.7 511.6L338.4 511.6L340.1 511.7L341.9 511.8L343.6 511.8L345.3 511.9L347.0 512.0L348.8 512.1L350.6 512.2L352.4 512.3L354.2 512.4L356.1 512.5L358.0 512.6L360.0 512.7L362.6 512.9L365.2 513.0L368.0 513.2L370.7 513.4L373.6 513.6L376.5 513.8L379.4 514.0L382.4 514.2L385.3 514.4L388.3 514.6L391.3 514.8L394.2 515.0L397.1 515.1L400.0 515.3L402.9 515.4L405.8 515.6L408.7 515.7L411.6 515.8L414.5 515.9L417.4 516.0L420.4 516.1L423.3 516.2L426.1 516.3L429.0 516.4L431.8 516.5L434.6 516.6L437.3 516.8L440.0 516.9L442.3 517.0L444.4 517.2L446.6 517.3L448.7 517.5L450.7 517.6L452.7 517.8L454.8 517.9L456.8 518.1L458.9 518.2L461.0 518.4L463.1 518.5L465.3 518.7L467.6 518.9L470.0 519.0L473.3 519.2L476.6 519.4L480.1 519.6L483.7 519.7L487.4 519.9L491.1 520.1L494.9 520.3L498.7 520.4L502.5 520.6L506.4 520.8L510.2 521.0L514.0 521.1L517.8 521.3L521.5 521.5" stroke="#595959" class="lb"/>
<path d="M75.8 493.8L77.9 493.7L80.0 493.7L82.1 493.7L84.2 493.7L86.3 493.7L88.4 493.6L90.5 493.6L92.6 493.6L94.7 493.6L96.8 493.6L98.9 493.6L100.9 493.6L103.0 493.7L105.0 493.7L106.8 493.8L108.7 493.8L110.4 493.9L112.2 494.0L114.0 494.1L115.7 494.2L117.5 494.3L119.2 494.4L121.0 494.5L122.7 494.6L124.5 494.7L126.3 494.8L128.1 494.9L130.0 495.0L132.1 495.1L134.3 495.1L136.5 495.2L138.8 495.2L141.2 495.2L143.5 495.2L145.8 495.2L148.1 495.3L150.4 495.3L152.5 495.3L154.6 495.4L156.5 495.5L158.3 495.6L160.0 495.7L160.9 495.8L161.7 495.9L162.4 496.0L163.2 496.1L163.8 496.2L164.5 496.3L165.1 496.4L165.8 496.5L166.4 496.6L167.0 496.8L167.7 496.9L168.4 497.0L169.2 497.1L170.0 497.2L171.2 497.3L172.5 497.5L173.9 497.6L175.3 497.7L176.8 497.8L178.2 497.9L179.8 498.0L181.3 498.2L182.8 498.3L184.3 498.4L185.8 498.5L187.2 498.7L188.6 498.8L190.0 499.0L191.2 499.2L192.3 499.3L193.5 499.5L194.6 499.7L195.7 499.8L196.9 500.0L198.0 500.2L199.1 500.4L200.1 500.6L201.2 500.8L202.2 501.0L203.2 501.2L204.1 501.4L205.0 501.6L205.6 501.7L206.2 501.9L206.8 502.1L207.3 502.2L207.8 502.4L208.4 502.5L208.9 502.7L209.4 502.9L209.9 503.0L210.4 503.2L210.9 503.3L211.4 503.5L211.9 503.7L212.4 503.8L212.9 504.0L213.5 504.1L214.0 504.3L214.5 504.5L215.1 504.6L215.6 504.8L216.2 505.0L216.7 505.1L217.2 505.3L217.7 505.4L218.3 505.5L218.8 505.6L219.2 505.7L219.7 505.7L220.0 505.7L220.4 505.7L220.7 505.7L221.0 505.7L221.4 505.6L221.7 505.6L222.0 505.5L222.3 505.5L222.6 505.4L222.9 505.3L223.2 505.2L223.5 505.1L223.8 505.0L224.1 504.9L224.4 504.8L224.8 504.6L225.1 504.4L225.4 504.2L225.7 504.0L226.0 503.8L226.4 503.6L226.7 503.4L227.0 503.1L227.3 502.9L227.6 502.7L227.9 502.5L228.2 502.4L228.5 502.2L228.7 502.1L229.0 502.0L229.2 501.9L229.4 501.8L229.6 501.7L229.8 501.6L230.0 501.5L230.2 501.4L230.4 501.3L230.6 501.3L230.9 501.2L231.1 501.1L231.3 501.1L231.5 501.0L231.7 500.9L231.9 500.9L232.1 500.8L232.4 500.8L232.6 500.7L232.8 500.7L233.0 500.6L233.2 500.6L233.4 500.5L233.6 500.5L233.9 500.5L234.1 500.5L234.3 500.5L234.5 500.5L234.7 500.5L234.9 500.6L235.1 500.6L235.4 500.6L235.6 500.7L235.8 500.8L236.0 500.8L236.2 500.9L236.4 501.0L236.7 501.1L236.9 501.2L237.1 501.3L237.3 501.5L237.5 501.6L237.8 501.8L238.0 502.0L238.3 502.2L238.6 502.4L238.9 502.7L239.2 502.9L239.4 503.2L239.7 503.5L240.0 503.8L240.2 504.1L240.5 504.4L240.7 504.7L241.0 505.0L241.2 505.3L241.4 505.7L241.7 506.0L241.9 506.4L242.1 506.8L242.3 507.2L242.5 507.6L242.7 508.1L242.9 508.5L243.1 508.9L243.3 509.4L243.5 509.8L243.7 510.3L243.9 510.7L244.1 511.2L244.3 511.7L244.6 512.3L244.8 512.8L245.0 513.4L245.2 513.9L245.5 514.5L245.7 515.1L245.9 515.7L246.1 516.3L246.3 516.8L246.5 517.5L246.7 518.1L246.9 518.7L247.1 519.3L247.3 520.0L247.5 520.7L247.6 521.5L247.8 522.2L247.9 523.0L248.0 523.7L248.2 524.5L248.3 525.3L248.4 526.1L248.6 526.9L248.7 527.7L248.9 528.4L249.1 529.2L249.3 530.0L249.5 530.8L249.8 531.7L250.1 532.5L250.4 533.3L250.7 534.1L251.0 535.0L251.3 535.8L251.6 536.6L252.0 537.5L252.3 538.4L252.6 539.2L252.9 540.1L253.1 541.0L253.4 541.9L253.7 542.9L253.9 544.0L254.1 545.1L254.3 546.1L254.5 547.2L254.7 548.3L254.9 549.4L255.1 550.6L255.3 551.7L255.5 552.8L255.7 554.0L255.9 555.1L256.1 556.3L256.3 557.4L256.5 558.6L256.8 559.9L257.1 561.1L257.3 562.4L257.6 563.7L257.8 564.9L258.1 566.2L258.4 567.5L258.7 568.8L258.9 570.0L259.2 571.3L259.5 572.5L259.7 573.8L260.0 575.0L260.2 576.1L260.5 577.2L260.7 578.3L261.0 579.4L261.2 580.5L261.5 581.6L261.7 582.6L261.9 583.7L262.2 584.8L262.4 585.8L262.7 586.9L262.9 588.0L263.2 589.1L263.4 590.2L263.7 591.4L263.9 592.6L264.2 593.8L264.4 595.0L264.7 596.3L264.9 597.5L265.2 598.8L265.5 600.0L265.7 601.2L266.0 602.4L266.3 603.6L266.5 604.7L266.8 605.8L267.1 606.8L267.3 607.6L267.5 608.3L267.7 609.0L268.0 609.8L268.2 610.5L268.4 611.2L268.6 611.9L268.8 612.6L269.1 613.2L269.3 613.8L269.5 614.4L269.8 614.9L270.0 615.4L270.3 615.8L270.4 616.0L270.6 616.2L270.8 616.5L270.9 616.7L271.1 616.9L271.3 617.1L271.4 617.3L271.6 617.4L271.8 617.6L271.9 617.7L272.1 617.7L272.2 617.8L272.4 617.8L272.5 617.8L272.7 617.7L272.9 617.4L273.0 617.1L273.2 616.6L273.3 616.1L273.4 615.5L273.5 614.8L273.6 614.1L273.7 613.3L273.8 612.6L274.0 611.8L274.1 611.0L274.2 610.2L274.4 609.5L274.7 608.3L275.0 607.0L275.4 605.6L275.8 604.1L276.2 602.6L276.6 601.1L277.1 599.5L277.5 597.9L277.9 596.2L278.4 594.6L278.8 593.0L279.2 591.4L279.5 589.9L279.9 588.4L280.2 587.1L280.5 585.7L280.8 584.4L281.1 583.1L281.3 581.8L281.6 580.5L281.9 579.2L282.1 577.9L282.4 576.6L282.6 575.3L282.9 574.0L283.1 572.7L283.4 571.3L283.6 570.0L283.9 568.6L284.1 567.2L284.3 565.7L284.6 564.3L284.8 562.8L285.1 561.3L285.3 559.9L285.5 558.4L285.7 557.0L286.0 555.5L286.2 554.1L286.4 552.7L286.7 551.3L286.9 550.0L287.1 548.9L287.3 547.7L287.5 546.6L287.7 545.5L287.9 544.4L288.1 543.3L288.4 542.2L288.6 541.1L288.8 540.1L289.0 539.0L289.2 538.0L289.3 537.0L289.5 536.0L289.7 535.0L289.8 534.2L290.0 533.4L290.1 532.6L290.2 531.8L290.3 531.0L290.4 530.3L290.5 529.5L290.7 528.7L290.8 528.0L290.9 527.3L291.0 526.5L291.1 525.8L291.3 525.1L291.4 524.4L291.5 523.8L291.7 523.2L291.8 522.6L291.9 522.0L292.0 521.4L292.2 520.8L292.3 520.2L292.5 519.6L292.6 519.0L292.8 518.5L292.9 517.9L293.1 517.4L293.2 516.8L293.4 516.3L293.6 515.8L293.7 515.4L293.9 514.9L294.0 514.5L294.2 514.1L294.4 513.6L294.5 513.2L294.7 512.8L294.9 512.4L295.0 511.9L295.2 511.5L295.4 511.2L295.6 510.8L295.8 510.4L296.0 510.1L296.1 509.8L296.3 509.5L296.5 509.2L296.7 508.9L296.8 508.6L297.0 508.3L297.2 508.1L297.4 507.8L297.6 507.5L297.8 507.3L298.0 507.0L298.2 506.7L298.4 506.5L298.6 506.3L298.8 506.0L299.1 505.8L299.3 505.5L299.5 505.3L299.8 505.1L300.0 504.8L300.3 504.6L300.5 504.4L300.8 504.2L301.1 504.0L301.4 503.8L301.7 503.7L302.0 503.5L302.4 503.3L302.9 503.2L303.3 503.0L303.8 502.9L304.2 502.8L304.7 502.7L305.2 502.6L305.7 502.5L306.3 502.5L306.9 502.4L307.5 502.4L308.1 502.3L308.7 502.3L309.4 502.2L310.8 502.1L312.2 502.1L313.9 502.0L315.6 502.0L317.4 502.1L319.3 502.1L321.3 502.2L323.2 502.2L325.2 502.3L327.3 502.4L329.3 502.4L331.2 502.5L333.1 502.6L335.0 502.6L336.8 502.6L338.5 502.6L340.3 502.7L342.0 502.7L343.7 502.7L345.4 502.7L347.2 502.7L348.9 502.7L350.7 502.8L352.4 502.8L354.3 502.8L356.1 502.9L358.0 502.9L360.0 503.0L362.6 503.1L365.2 503.2L368.0 503.4L370.7 503.5L373.6 503.7L376.5 503.9L379.4 504.1L382.4 504.3L385.3 504.5L388.3 504.7L391.3 504.9L394.2 505.1L397.1 505.2L400.0 505.4L402.9 505.6L405.8 505.7L408.7 505.9L411.6 506.0L414.5 506.1L417.4 506.3L420.4 506.4L423.3 506.6L426.1 506.7L429.0 506.8L431.8 506.9L434.6 507.1L437.3 507.2L440.0 507.3L442.3 507.4L444.4 507.5L446.6 507.6L448.6 507.7L450.7 507.8L452.7 507.8L454.8 507.9L456.8 508.0L458.9 508.1L461.0 508.2L463.1 508.2L465.3 508.3L467.6 508.4L470.0 508.5L473.3 508.6L476.6 508.7L480.1 508.9L483.7 509.0L487.4 509.1L491.1 509.2L494.9 509.3L498.7 509.5L502.5 509.6L506.4 509.7L510.2 509.8L514.0 510.0L517.8 510.1L521.5 510.2" stroke="#9BBB59" class="lb"/>
<path d="M75.8 480.5L77.9 480.5L80.0 480.6L82.1 480.6L84.2 480.7L86.3 480.7L88.4 480.8L90.5 480.8L92.6 480.9L94.7 480.9L96.8 480.9L98.9 481.0L100.9 481.0L103.0 481.1L105.0 481.1L106.8 481.1L108.7 481.1L110.4 481.1L112.2 481.1L114.0 481.1L115.7 481.1L117.5 481.1L119.2 481.1L121.0 481.2L122.8 481.2L124.5 481.2L126.3 481.3L128.2 481.3L130.0 481.4L132.1 481.5L134.1 481.6L136.2 481.8L138.3 482.0L140.3 482.1L142.4 482.3L144.6 482.5L146.7 482.7L148.9 482.9L151.0 483.2L153.2 483.4L155.5 483.6L157.7 483.8L160.0 484.0L162.7 484.2L165.6 484.5L168.5 484.8L171.5 485.0L174.6 485.3L177.7 485.6L180.8 485.9L183.8 486.1L186.8 486.4L189.7 486.7L192.5 486.9L195.2 487.2L197.7 487.4L200.0 487.6L201.4 487.7L202.8 487.9L204.1 488.1L205.4 488.3L206.7 488.5L207.9 488.7L209.1 488.8L210.2 489.0L211.3 489.1L212.4 489.2L213.4 489.3L214.4 489.3L215.3 489.2L216.2 489.1L216.7 489.0L217.2 488.9L217.7 488.7L218.1 488.6L218.5 488.4L218.9 488.2L219.3 488.0L219.7 487.8L220.1 487.5L220.5 487.3L220.8 487.1L221.2 486.9L221.6 486.7L222.0 486.5L222.4 486.3L222.8 486.1L223.2 485.9L223.5 485.6L223.9 485.4L224.3 485.1L224.7 484.9L225.1 484.7L225.4 484.5L225.8 484.3L226.2 484.2L226.5 484.1L226.9 484.0L227.2 484.0L227.5 484.0L227.8 484.1L228.1 484.2L228.4 484.4L228.6 484.5L228.9 484.7L229.2 484.9L229.5 485.1L229.7 485.4L230.0 485.6L230.3 485.8L230.5 486.1L230.8 486.3L231.0 486.5L231.2 486.7L231.5 486.9L231.7 487.2L231.9 487.4L232.2 487.6L232.4 487.9L232.6 488.1L232.8 488.4L233.0 488.6L233.2 488.9L233.4 489.2L233.6 489.4L233.8 489.7L234.0 490.0L234.2 490.3L234.4 490.6L234.6 491.0L234.8 491.3L235.0 491.7L235.2 492.0L235.4 492.4L235.6 492.7L235.8 493.1L236.0 493.5L236.2 493.9L236.4 494.2L236.6 494.6L236.8 495.0L237.0 495.4L237.3 495.9L237.5 496.4L237.8 496.8L238.1 497.3L238.3 497.8L238.6 498.3L238.9 498.8L239.1 499.3L239.4 499.7L239.6 500.2L239.9 500.7L240.1 501.2L240.4 501.6L240.6 502.0L240.8 502.4L241.1 502.7L241.3 503.1L241.5 503.5L241.7 503.8L241.9 504.2L242.1 504.6L242.4 504.9L242.6 505.3L242.8 505.6L243.0 506.0L243.2 506.4L243.4 506.8L243.6 507.2L243.8 507.7L244.0 508.1L244.3 508.6L244.5 509.1L244.7 509.5L244.9 510.0L245.1 510.5L245.3 511.0L245.5 511.5L245.7 511.9L245.9 512.4L246.1 512.9L246.3 513.4L246.5 513.9L246.7 514.4L247.0 514.9L247.2 515.4L247.4 515.9L247.6 516.4L247.8 517.0L248.0 517.5L248.3 518.0L248.5 518.5L248.7 519.1L248.9 519.6L249.1 520.1L249.3 520.7L249.5 521.3L249.7 522.0L250.0 522.6L250.2 523.2L250.4 523.9L250.6 524.5L250.8 525.2L251.0 525.9L251.2 526.5L251.4 527.2L251.6 527.9L251.8 528.6L252.0 529.3L252.2 530.0L252.4 530.8L252.6 531.6L252.8 532.4L253.0 533.2L253.2 534.1L253.4 534.9L253.6 535.8L253.7 536.6L253.9 537.5L254.1 538.3L254.3 539.2L254.5 540.1L254.7 541.0L254.9 541.9L255.1 542.9L255.4 544.0L255.6 545.1L255.9 546.2L256.2 547.4L256.4 548.5L256.7 549.6L256.9 550.8L257.2 551.9L257.5 553.0L257.7 554.1L258.0 555.3L258.3 556.3L258.5 557.4L258.7 558.3L258.9 559.3L259.1 560.2L259.4 561.1L259.6 562.0L259.8 562.9L260.0 563.7L260.2 564.6L260.4 565.5L260.6 566.4L260.8 567.3L261.0 568.2L261.3 569.1L261.5 570.0L261.7 571.0L262.0 572.0L262.3 573.0L262.5 574.0L262.8 575.1L263.0 576.1L263.3 577.2L263.6 578.2L263.8 579.2L264.1 580.2L264.4 581.1L264.7 582.1L264.9 583.0L265.2 583.8L265.4 584.4L265.6 585.0L265.8 585.6L266.0 586.1L266.2 586.7L266.4 587.2L266.6 587.8L266.8 588.3L267.0 588.8L267.2 589.2L267.4 589.7L267.6 590.2L267.8 590.6L268.0 591.0L268.2 591.3L268.3 591.6L268.5 591.9L268.7 592.2L268.8 592.5L269.0 592.8L269.2 593.1L269.3 593.4L269.5 593.6L269.7 593.8L269.8 594.0L270.0 594.1L270.1 594.2L270.3 594.2L270.5 594.1L270.7 594.0L270.8 593.7L271.0 593.4L271.2 593.0L271.4 592.6L271.5 592.1L271.7 591.6L271.8 591.1L272.0 590.6L272.1 590.0L272.3 589.5L272.4 588.9L272.6 588.4L272.8 587.6L273.0 586.8L273.2 586.0L273.4 585.0L273.6 584.1L273.8 583.1L274.0 582.2L274.2 581.2L274.4 580.2L274.6 579.2L274.7 578.2L274.9 577.3L275.1 576.4L275.3 575.5L275.5 574.8L275.6 574.1L275.8 573.4L275.9 572.7L276.1 572.1L276.3 571.4L276.4 570.8L276.6 570.1L276.7 569.4L276.9 568.8L277.0 568.1L277.2 567.4L277.3 566.7L277.5 566.0L277.7 565.1L277.9 564.2L278.0 563.3L278.2 562.4L278.4 561.5L278.6 560.5L278.8 559.6L279.0 558.6L279.1 557.7L279.3 556.7L279.5 555.8L279.7 554.8L279.8 553.9L280.0 553.0L280.2 552.1L280.3 551.2L280.4 550.3L280.6 549.4L280.7 548.5L280.9 547.6L281.0 546.7L281.1 545.8L281.3 545.0L281.4 544.1L281.6 543.3L281.7 542.5L281.8 541.7L282.0 541.0L282.1 540.5L282.2 540.0L282.3 539.6L282.5 539.1L282.6 538.7L282.7 538.3L282.8 537.9L283.0 537.5L283.1 537.1L283.2 536.7L283.3 536.3L283.4 535.9L283.5 535.4L283.6 535.0L283.7 534.5L283.7 534.1L283.8 533.6L283.9 533.1L283.9 532.6L283.9 532.1L284.0 531.6L284.0 531.1L284.0 530.6L284.1 530.1L284.1 529.6L284.2 529.1L284.2 528.6L284.3 528.1L284.4 527.5L284.5 526.9L284.6 526.3L284.7 525.6L284.8 525.0L284.9 524.4L285.0 523.7L285.1 523.1L285.2 522.5L285.3 521.8L285.4 521.2L285.6 520.5L285.7 519.9L285.8 519.3L285.9 518.7L286.0 518.1L286.1 517.5L286.3 516.9L286.4 516.3L286.5 515.8L286.6 515.2L286.8 514.6L286.9 514.0L287.0 513.4L287.2 512.9L287.3 512.3L287.4 511.7L287.6 511.2L287.7 510.7L287.9 510.2L288.0 509.7L288.2 509.3L288.3 508.8L288.5 508.3L288.6 507.9L288.8 507.4L289.0 507.0L289.1 506.5L289.3 506.0L289.5 505.6L289.7 505.1L289.9 504.6L290.2 504.0L290.4 503.4L290.7 502.8L291.0 502.2L291.3 501.6L291.6 500.9L291.9 500.3L292.2 499.7L292.5 499.1L292.8 498.5L293.2 497.9L293.6 497.3L293.9 496.8L294.3 496.3L294.6 495.9L295.0 495.5L295.3 495.1L295.7 494.7L296.1 494.3L296.5 493.9L296.9 493.6L297.3 493.2L297.7 492.9L298.1 492.6L298.5 492.3L298.9 492.1L299.3 491.8L299.7 491.6L300.1 491.4L300.4 491.3L300.7 491.2L301.1 491.0L301.4 490.9L301.8 490.9L302.1 490.8L302.5 490.7L302.9 490.7L303.3 490.6L303.7 490.6L304.1 490.5L304.5 490.5L305.0 490.4L305.8 490.3L306.7 490.2L307.7 490.1L308.7 490.1L309.7 490.0L310.8 490.0L311.9 489.9L313.0 489.9L314.2 489.9L315.3 489.9L316.5 489.8L317.7 489.8L318.8 489.8L320.0 489.8L321.3 489.8L322.7 489.8L324.1 489.8L325.5 489.8L326.9 489.8L328.4 489.8L329.8 489.8L331.3 489.8L332.7 489.8L334.2 489.8L335.7 489.9L337.1 489.9L338.6 490.0L340.0 490.0L341.4 490.0L342.8 490.1L344.2 490.2L345.5 490.2L346.9 490.3L348.2 490.4L349.6 490.5L350.9 490.6L352.4 490.6L353.8 490.7L355.3 490.8L356.8 490.9L358.4 491.0L360.0 491.1L362.4 491.2L365.0 491.4L367.7 491.5L370.4 491.7L373.3 491.8L376.2 492.0L379.1 492.2L382.1 492.3L385.2 492.5L388.2 492.7L391.2 492.8L394.2 493.0L397.1 493.2L400.0 493.3L402.9 493.4L405.8 493.6L408.7 493.7L411.6 493.9L414.5 494.0L417.4 494.2L420.4 494.3L423.3 494.4L426.1 494.6L429.0 494.7L431.8 494.8L434.6 495.0L437.3 495.1L440.0 495.2L442.3 495.3L444.4 495.4L446.6 495.5L448.7 495.6L450.7 495.6L452.7 495.7L454.8 495.8L456.8 495.9L458.9 495.9L461.0 496.0L463.1 496.1L465.3 496.2L467.6 496.3L470.0 496.4L473.3 496.5L476.6 496.7L480.1 496.9L483.7 497.0L487.4 497.2L491.1 497.4L494.9 497.5L498.7 497.7L502.5 497.9L506.4 498.1L510.2 498.3L514.0 498.4L517.8 498.6L521.5 498.8" stroke="#7030A0" class="lb"/>
<path d="M75.8 503.2L77.9 503.2L80.0 503.2L82.1 503.3L84.2 503.3L86.3 503.3L88.4 503.3L90.5 503.3L92.6 503.4L94.7 503.4L96.8 503.4L98.9 503.4L100.9 503.5L103.0 503.5L105.0 503.6L106.8 503.7L108.7 503.7L110.4 503.8L112.2 503.9L114.0 504.0L115.7 504.1L117.5 504.2L119.2 504.3L121.0 504.4L122.7 504.5L124.5 504.6L126.3 504.7L128.1 504.8L130.0 504.9L132.1 505.0L134.3 505.1L136.5 505.2L138.8 505.3L141.2 505.4L143.5 505.5L145.8 505.7L148.1 505.8L150.4 505.9L152.5 506.0L154.6 506.1L156.5 506.2L158.3 506.4L160.0 506.5L160.9 506.6L161.7 506.7L162.4 506.7L163.2 506.8L163.8 506.9L164.5 507.0L165.1 507.1L165.8 507.2L166.4 507.3L167.0 507.4L167.7 507.4L168.4 507.5L169.2 507.6L170.0 507.7L171.2 507.8L172.5 507.9L173.9 508.0L175.3 508.1L176.8 508.2L178.2 508.3L179.8 508.4L181.3 508.6L182.8 508.7L184.3 508.8L185.8 508.9L187.2 509.0L188.6 509.2L190.0 509.3L191.2 509.4L192.3 509.6L193.5 509.7L194.7 509.9L195.9 510.0L197.1 510.2L198.2 510.3L199.3 510.5L200.4 510.6L201.4 510.8L202.4 511.0L203.4 511.1L204.2 511.3L205.0 511.5L205.4 511.6L205.8 511.7L206.1 511.8L206.5 511.9L206.8 512.1L207.1 512.2L207.4 512.3L207.7 512.4L208.0 512.5L208.2 512.6L208.5 512.7L208.8 512.8L209.1 512.9L209.4 513.0L209.7 513.1L209.9 513.1L210.2 513.2L210.5 513.2L210.8 513.3L211.0 513.4L211.3 513.4L211.6 513.4L211.8 513.5L212.1 513.5L212.4 513.5L212.6 513.5L212.9 513.4L213.1 513.4L213.3 513.3L213.5 513.3L213.8 513.2L214.0 513.0L214.2 512.9L214.4 512.8L214.6 512.6L214.8 512.5L215.0 512.3L215.2 512.2L215.4 512.0L215.6 511.8L215.8 511.7L216.0 511.5L216.3 511.3L216.5 511.1L216.8 510.8L217.0 510.6L217.3 510.4L217.6 510.1L217.8 509.8L218.1 509.6L218.4 509.3L218.7 509.1L218.9 508.8L219.2 508.6L219.4 508.4L219.7 508.2L219.9 508.0L220.1 507.9L220.3 507.7L220.6 507.6L220.8 507.4L221.0 507.3L221.2 507.2L221.4 507.0L221.6 506.9L221.8 506.8L222.0 506.7L222.2 506.6L222.4 506.5L222.6 506.4L222.7 506.3L222.8 506.3L222.9 506.2L223.0 506.2L223.1 506.2L223.2 506.1L223.3 506.1L223.4 506.0L223.6 506.0L223.7 506.0L223.8 506.0L223.9 506.0L224.0 506.0L224.1 506.0L224.3 506.0L224.5 506.1L224.7 506.2L224.9 506.3L225.1 506.4L225.4 506.5L225.6 506.7L225.8 506.8L226.0 507.0L226.3 507.2L226.5 507.3L226.7 507.5L226.9 507.7L227.1 507.9L227.3 508.1L227.6 508.4L227.8 508.6L228.0 508.9L228.2 509.1L228.4 509.4L228.6 509.7L228.8 510.0L229.0 510.3L229.2 510.6L229.4 510.9L229.6 511.3L229.8 511.6L230.0 511.9L230.2 512.3L230.4 512.6L230.6 513.0L230.8 513.4L231.0 513.8L231.2 514.2L231.3 514.6L231.5 515.0L231.7 515.4L231.9 515.8L232.1 516.3L232.2 516.7L232.4 517.1L232.6 517.5L232.8 517.9L233.0 518.4L233.2 518.8L233.4 519.3L233.6 519.8L233.8 520.3L234.0 520.7L234.2 521.2L234.4 521.7L234.6 522.1L234.8 522.5L235.0 522.9L235.1 523.3L235.3 523.7L235.4 523.9L235.5 524.1L235.6 524.3L235.7 524.5L235.7 524.7L235.8 524.9L235.9 525.0L236.0 525.2L236.1 525.4L236.1 525.6L236.2 525.8L236.3 526.0L236.4 526.2L236.5 526.5L236.7 527.1L237.0 527.9L237.3 528.7L237.6 529.5L237.9 530.4L238.2 531.4L238.6 532.4L238.9 533.4L239.3 534.5L239.6 535.5L239.9 536.6L240.3 537.7L240.6 538.7L240.9 539.7L241.2 540.8L241.6 541.9L241.9 543.1L242.2 544.2L242.5 545.4L242.9 546.6L243.2 547.8L243.5 548.9L243.8 550.1L244.1 551.3L244.4 552.5L244.7 553.6L245.0 554.8L245.3 555.9L245.6 556.9L245.8 557.9L246.1 558.9L246.3 559.9L246.5 560.9L246.8 561.8L247.0 562.8L247.2 563.8L247.5 564.7L247.7 565.7L247.9 566.8L248.2 567.8L248.4 568.9L248.7 570.0L249.1 571.5L249.4 573.0L249.8 574.6L250.3 576.3L250.7 577.9L251.1 579.6L251.5 581.4L252.0 583.1L252.4 584.8L252.8 586.5L253.2 588.2L253.5 589.8L253.9 591.4L254.2 593.0L254.4 594.3L254.7 595.6L254.9 596.8L255.1 598.0L255.2 599.3L255.4 600.5L255.6 601.7L255.7 602.9L255.9 604.1L256.1 605.2L256.3 606.4L256.5 607.6L256.7 608.8L256.9 610.0L257.1 611.2L257.4 612.4L257.7 613.6L257.9 614.9L258.2 616.1L258.5 617.3L258.8 618.5L259.1 619.7L259.4 620.9L259.7 622.1L260.0 623.2L260.3 624.4L260.7 625.4L261.0 626.5L261.3 627.4L261.6 628.3L261.9 629.3L262.2 630.3L262.5 631.3L262.8 632.3L263.1 633.3L263.4 634.2L263.7 635.0L264.0 635.7L264.3 636.3L264.6 636.7L264.9 637.0L265.2 637.1L265.5 637.0L265.7 636.8L266.0 636.4L266.3 635.9L266.6 635.4L266.8 634.7L267.1 634.0L267.4 633.2L267.6 632.4L267.9 631.5L268.1 630.7L268.4 629.9L268.6 629.1L268.8 628.4L269.0 627.6L269.2 626.7L269.4 625.8L269.6 624.8L269.8 623.9L270.0 622.9L270.1 622.0L270.3 621.0L270.4 620.0L270.5 619.1L270.7 618.1L270.8 617.2L271.0 616.4L271.1 615.5L271.2 614.8L271.3 614.2L271.4 613.6L271.5 613.0L271.6 612.4L271.8 611.8L271.9 611.2L272.0 610.7L272.1 610.1L272.2 609.5L272.3 608.8L272.4 608.2L272.5 607.5L272.6 606.8L272.8 605.7L273.0 604.5L273.1 603.3L273.3 602.0L273.5 600.7L273.7 599.4L273.9 598.0L274.1 596.6L274.3 595.3L274.5 593.9L274.7 592.5L274.9 591.1L275.1 589.7L275.3 588.4L275.5 587.1L275.7 585.8L275.9 584.5L276.1 583.2L276.3 581.9L276.5 580.6L276.7 579.3L276.9 577.9L277.1 576.6L277.3 575.3L277.5 574.0L277.7 572.7L277.9 571.3L278.1 570.0L278.3 568.6L278.5 567.2L278.7 565.7L278.8 564.3L279.0 562.8L279.2 561.3L279.4 559.9L279.5 558.4L279.7 557.0L279.9 555.5L280.0 554.1L280.2 552.7L280.3 551.3L280.5 550.0L280.6 548.9L280.8 547.7L280.9 546.6L281.0 545.4L281.1 544.3L281.2 543.2L281.3 542.1L281.4 541.0L281.5 540.0L281.6 538.9L281.8 537.9L281.9 536.9L282.0 535.9L282.2 535.0L282.3 534.3L282.5 533.6L282.6 532.9L282.8 532.2L282.9 531.5L283.1 530.8L283.2 530.2L283.4 529.6L283.6 528.9L283.7 528.3L283.9 527.7L284.1 527.1L284.2 526.5L284.4 525.9L284.5 525.4L284.7 524.9L284.8 524.4L284.9 524.0L285.0 523.5L285.2 523.0L285.3 522.6L285.4 522.1L285.6 521.7L285.7 521.2L285.8 520.8L286.0 520.3L286.1 519.9L286.3 519.5L286.5 519.1L286.6 518.7L286.8 518.3L286.9 518.0L287.1 517.6L287.2 517.2L287.4 516.8L287.6 516.5L287.7 516.1L287.9 515.8L288.1 515.5L288.3 515.2L288.6 514.9L288.8 514.6L289.0 514.4L289.2 514.2L289.5 514.0L289.7 513.8L290.0 513.6L290.2 513.4L290.5 513.3L290.8 513.1L291.0 513.0L291.3 512.9L291.6 512.7L291.9 512.6L292.2 512.5L292.5 512.4L292.9 512.3L293.2 512.2L293.6 512.1L294.0 512.0L294.4 511.9L294.8 511.9L295.2 511.8L295.6 511.8L296.1 511.7L296.5 511.7L297.0 511.7L297.4 511.6L297.9 511.6L298.4 511.6L299.1 511.6L299.8 511.6L300.5 511.6L301.3 511.6L302.1 511.6L302.9 511.7L303.7 511.7L304.5 511.8L305.4 511.8L306.3 511.9L307.2 512.0L308.1 512.0L309.0 512.1L310.0 512.1L311.5 512.2L313.1 512.2L314.7 512.3L316.5 512.3L318.2 512.4L320.1 512.4L321.9 512.5L323.8 512.5L325.7 512.6L327.6 512.6L329.5 512.7L331.3 512.8L333.2 512.8L335.0 512.9L336.8 513.0L338.5 513.1L340.3 513.1L342.0 513.2L343.7 513.3L345.4 513.4L347.1 513.5L348.9 513.6L350.6 513.7L352.4 513.8L354.3 513.9L356.1 514.1L358.0 514.2L360.0 514.3L362.6 514.5L365.2 514.6L368.0 514.8L370.7 515.0L373.6 515.2L376.5 515.4L379.4 515.6L382.4 515.8L385.3 516.0L388.3 516.2L391.3 516.4L394.2 516.6L397.1 516.8L400.0 517.0L402.9 517.2L405.8 517.3L408.7 517.5L411.6 517.6L414.5 517.8L417.4 517.9L420.4 518.0L423.3 518.2L426.1 518.3L429.0 518.5L431.8 518.6L434.6 518.7L437.3 518.9L440.0 519.0L442.3 519.1L444.4 519.2L446.6 519.4L448.7 519.5L450.7 519.6L452.7 519.7L454.8 519.8L456.8 519.9L458.9 520.1L461.0 520.2L463.1 520.3L465.3 520.4L467.6 520.6L470.0 520.7L473.3 520.9L476.6 521.1L480.1 521.3L483.7 521.5L487.4 521.7L491.1 521.9L494.9 522.1L498.7 522.4L502.5 522.6L506.4 522.8L510.2 523.0L514.0 523.3L517.8 523.5L521.5 523.7" stroke="#F79646" class="lb"/>
<path d="M75.8 496.5L77.9 496.5L80.0 496.6L82.1 496.6L84.2 496.6L86.3 496.6L88.4 496.7L90.5 496.7L92.6 496.7L94.7 496.8L96.8 496.8L98.9 496.8L100.9 496.9L103.0 496.9L105.0 497.0L106.8 497.1L108.7 497.1L110.4 497.2L112.2 497.3L114.0 497.4L115.7 497.4L117.5 497.5L119.2 497.6L121.0 497.7L122.7 497.8L124.5 497.9L126.3 498.0L128.1 498.1L130.0 498.2L132.1 498.3L134.3 498.4L136.5 498.6L138.8 498.7L141.2 498.8L143.5 499.0L145.8 499.1L148.1 499.2L150.4 499.4L152.5 499.5L154.6 499.6L156.5 499.8L158.3 499.9L160.0 500.0L160.9 500.1L161.7 500.1L162.5 500.2L163.2 500.3L164.0 500.3L164.7 500.4L165.3 500.4L166.0 500.5L166.6 500.6L167.3 500.6L168.0 500.7L168.6 500.7L169.3 500.8L170.0 500.8L170.7 500.8L171.4 500.9L172.1 500.9L172.9 500.9L173.6 500.9L174.3 501.0L175.0 501.0L175.7 501.0L176.4 501.0L177.1 501.0L177.9 501.0L178.6 501.0L179.3 501.0L180.0 501.0L180.7 501.0L181.4 501.0L182.1 500.9L182.9 500.9L183.6 500.9L184.3 500.9L185.0 500.8L185.7 500.8L186.4 500.7L187.1 500.7L187.9 500.6L188.6 500.6L189.3 500.5L190.0 500.5L190.7 500.5L191.4 500.4L192.1 500.4L192.9 500.3L193.6 500.3L194.3 500.2L195.0 500.1L195.7 500.1L196.4 500.0L197.1 500.0L197.9 499.9L198.6 499.8L199.3 499.8L200.0 499.7L200.7 499.6L201.5 499.5L202.2 499.5L203.0 499.4L203.7 499.3L204.5 499.2L205.3 499.1L206.0 499.0L206.7 498.9L207.4 498.8L208.1 498.7L208.8 498.6L209.4 498.6L210.0 498.5L210.4 498.5L210.7 498.4L211.1 498.4L211.4 498.3L211.7 498.3L212.0 498.2L212.4 498.2L212.7 498.2L213.0 498.1L213.2 498.1L213.5 498.1L213.8 498.1L214.0 498.2L214.3 498.2L214.5 498.2L214.7 498.3L214.8 498.3L215.0 498.4L215.2 498.5L215.3 498.5L215.5 498.6L215.6 498.7L215.7 498.8L215.9 498.9L216.0 499.0L216.2 499.1L216.3 499.2L216.5 499.3L216.7 499.5L217.0 499.7L217.2 499.9L217.4 500.2L217.6 500.4L217.9 500.7L218.1 501.0L218.3 501.3L218.5 501.6L218.8 501.9L219.0 502.2L219.2 502.5L219.5 502.8L219.7 503.1L220.0 503.4L220.2 503.7L220.5 504.1L220.8 504.4L221.0 504.7L221.3 505.1L221.6 505.4L221.8 505.8L222.1 506.1L222.4 506.4L222.6 506.8L222.9 507.2L223.1 507.5L223.4 507.9L223.7 508.3L223.9 508.7L224.2 509.2L224.5 509.6L224.8 510.0L225.0 510.5L225.3 510.9L225.5 511.4L225.8 511.8L226.1 512.3L226.3 512.7L226.6 513.2L226.8 513.6L227.1 514.1L227.4 514.6L227.6 515.0L227.9 515.5L228.1 516.0L228.4 516.4L228.6 516.9L228.9 517.4L229.2 517.9L229.4 518.3L229.7 518.8L229.9 519.3L230.2 519.8L230.4 520.2L230.7 520.7L231.0 521.1L231.2 521.6L231.5 522.0L231.8 522.4L232.0 522.8L232.3 523.3L232.6 523.7L232.8 524.1L233.1 524.5L233.4 525.0L233.6 525.4L233.9 525.9L234.1 526.5L234.4 527.0L234.8 527.9L235.1 528.8L235.5 529.7L235.9 530.8L236.2 531.8L236.6 532.9L237.0 534.0L237.3 535.1L237.7 536.3L238.0 537.4L238.4 538.6L238.7 539.7L239.1 540.8L239.4 541.9L239.7 543.0L240.1 544.1L240.4 545.1L240.7 546.2L241.0 547.3L241.4 548.4L241.7 549.5L242.0 550.6L242.3 551.7L242.6 552.8L242.9 553.8L243.2 554.9L243.5 556.0L243.8 557.0L244.1 558.0L244.3 558.9L244.6 559.8L244.9 560.8L245.1 561.7L245.4 562.6L245.6 563.5L245.9 564.5L246.1 565.4L246.4 566.3L246.6 567.2L246.9 568.1L247.1 569.1L247.4 570.0L247.7 571.0L248.0 572.0L248.2 572.9L248.5 573.9L248.8 574.9L249.1 575.9L249.3 576.9L249.6 577.9L249.9 578.9L250.2 579.9L250.5 580.8L250.8 581.8L251.1 582.8L251.4 583.8L251.7 584.8L252.0 585.8L252.3 586.8L252.7 587.8L253.0 588.8L253.3 589.8L253.7 590.7L254.0 591.7L254.3 592.7L254.7 593.7L255.0 594.7L255.3 595.7L255.7 596.6L256.0 597.6L256.3 598.5L256.7 599.5L257.0 600.5L257.3 601.4L257.6 602.4L258.0 603.4L258.3 604.3L258.6 605.3L259.0 606.2L259.3 607.1L259.6 608.0L259.9 608.8L260.3 609.6L260.6 610.4L260.8 610.9L261.1 611.5L261.3 612.1L261.5 612.6L261.8 613.2L262.0 613.8L262.2 614.3L262.5 614.8L262.7 615.2L262.9 615.6L263.1 615.9L263.4 616.2L263.6 616.3L263.8 616.4L264.0 616.4L264.1 616.3L264.3 616.1L264.5 615.9L264.7 615.6L264.8 615.4L265.0 615.0L265.2 614.7L265.3 614.3L265.5 613.9L265.6 613.5L265.8 613.1L265.9 612.7L266.1 612.3L266.3 611.7L266.6 611.0L266.8 610.2L267.0 609.4L267.2 608.6L267.4 607.7L267.6 606.8L267.8 605.9L268.0 605.0L268.2 604.1L268.3 603.1L268.5 602.2L268.7 601.2L268.9 600.3L269.1 599.2L269.3 598.1L269.5 596.9L269.7 595.7L269.9 594.5L270.2 593.3L270.3 592.1L270.5 590.9L270.7 589.7L270.9 588.5L271.1 587.3L271.3 586.1L271.5 584.9L271.7 583.8L271.9 582.8L272.0 581.8L272.2 580.8L272.4 579.8L272.5 578.9L272.7 577.9L272.9 576.9L273.0 576.0L273.2 575.0L273.4 574.0L273.5 573.1L273.7 572.1L273.8 571.0L274.0 570.0L274.2 568.8L274.4 567.6L274.5 566.3L274.7 565.0L274.9 563.7L275.1 562.4L275.2 561.1L275.4 559.8L275.6 558.5L275.8 557.2L275.9 555.9L276.1 554.6L276.3 553.3L276.5 552.0L276.7 550.8L276.9 549.5L277.1 548.2L277.3 547.0L277.5 545.7L277.7 544.5L277.9 543.2L278.1 542.0L278.3 540.7L278.5 539.5L278.7 538.4L278.9 537.2L279.1 536.1L279.3 535.0L279.5 534.2L279.6 533.3L279.8 532.5L280.0 531.7L280.1 531.0L280.3 530.2L280.5 529.4L280.7 528.7L280.8 528.0L281.0 527.2L281.2 526.5L281.4 525.8L281.5 525.1L281.7 524.4L281.8 523.8L282.0 523.2L282.1 522.6L282.3 522.0L282.4 521.5L282.5 520.9L282.7 520.3L282.8 519.8L282.9 519.2L283.1 518.7L283.3 518.1L283.4 517.6L283.6 517.0L283.8 516.5L284.0 516.0L284.2 515.4L284.4 514.9L284.6 514.4L284.8 513.8L285.0 513.3L285.3 512.8L285.5 512.3L285.8 511.8L286.0 511.3L286.3 510.8L286.6 510.4L286.9 510.0L287.2 509.6L287.5 509.3L287.8 509.0L288.1 508.7L288.4 508.5L288.7 508.2L289.0 508.0L289.3 507.8L289.7 507.5L290.0 507.3L290.4 507.2L290.7 507.0L291.1 506.8L291.4 506.7L291.8 506.5L292.2 506.4L292.6 506.2L293.0 506.1L293.5 506.0L293.9 505.9L294.4 505.8L294.9 505.8L295.3 505.7L295.8 505.7L296.2 505.6L296.7 505.6L297.1 505.5L297.6 505.5L298.0 505.5L298.4 505.5L298.7 505.5L299.1 505.5L299.4 505.5L299.7 505.5L300.1 505.6L300.4 505.6L300.7 505.6L301.1 505.7L301.4 505.7L301.8 505.7L302.2 505.8L302.6 505.8L303.1 505.8L304.0 505.8L305.0 505.9L306.1 505.9L307.2 505.9L308.4 505.9L309.6 506.0L310.9 506.0L312.2 506.0L313.5 506.0L314.9 506.0L316.2 506.1L317.5 506.1L318.8 506.1L320.0 506.1L321.3 506.1L322.6 506.0L324.1 506.0L325.6 505.9L327.0 505.8L328.5 505.7L330.0 505.6L331.4 505.5L332.7 505.5L333.9 505.5L335.0 505.6L336.0 505.7L336.7 505.9L337.3 506.2L337.5 506.3L337.6 506.5L337.7 506.7L337.8 506.9L337.8 507.2L337.9 507.4L337.9 507.6L337.9 507.8L338.0 508.1L338.0 508.2L338.0 508.4L338.1 508.5L338.1 508.6L338.2 508.7L338.3 508.7L338.3 508.7L338.4 508.7L338.4 508.6L338.5 508.6L338.6 508.5L338.6 508.5L338.7 508.4L338.8 508.3L338.9 508.2L338.9 508.2L339.1 508.1L339.2 508.0L339.3 508.0L340.0 507.9L340.8 507.7L341.9 507.6L343.1 507.6L344.5 507.5L346.0 507.5L347.6 507.5L349.3 507.5L351.0 507.5L352.8 507.5L354.6 507.6L356.5 507.6L358.3 507.7L360.0 507.7L362.5 507.8L365.0 507.9L367.7 508.0L370.5 508.2L373.3 508.3L376.2 508.5L379.2 508.7L382.2 508.9L385.2 509.2L388.2 509.4L391.2 509.6L394.2 509.8L397.1 509.9L400.0 510.1L402.9 510.2L405.8 510.4L408.7 510.5L411.6 510.6L414.5 510.8L417.4 510.9L420.4 511.0L423.3 511.1L426.1 511.3L429.0 511.4L431.8 511.5L434.6 511.6L437.3 511.8L440.0 511.9L442.3 512.0L444.4 512.2L446.6 512.3L448.7 512.4L450.7 512.6L452.7 512.7L454.8 512.8L456.8 513.0L458.9 513.1L461.0 513.3L463.1 513.4L465.3 513.5L467.6 513.7L470.0 513.8L473.3 514.0L476.6 514.1L480.1 514.3L483.7 514.5L487.4 514.7L491.1 514.8L494.9 515.0L498.7 515.2L502.5 515.3L506.4 515.5L510.2 515.7L514.0 515.9L517.8 516.0L521.5 516.2" stroke="#00B0F0" class="lb"/>
</g>
<line x1="84.5" y1="568.8" x2="99.4" y2="568.8" stroke="#FF0000" stroke-width="2.2"/>
<text x="100.9" y="572.8" class="lg" textLength="53.8" lengthAdjust="spacingAndGlyphs">TPS/ASP-1</text>
<line x1="84.5" y1="587.5" x2="99.4" y2="587.5" stroke="#595959" stroke-width="2.2"/>
<text x="100.9" y="591.5" class="lg" textLength="53.8" lengthAdjust="spacingAndGlyphs">TPS/ASP-2</text>
<line x1="84.5" y1="606.1" x2="99.4" y2="606.1" stroke="#9BBB59" stroke-width="2.2"/>
<text x="100.9" y="610.1" class="lg" textLength="53.8" lengthAdjust="spacingAndGlyphs">TPS/ASP-3</text>
<line x1="84.5" y1="624.8" x2="99.4" y2="624.8" stroke="#7030A0" stroke-width="2.2"/>
<text x="100.9" y="628.8" class="lg" textLength="53.8" lengthAdjust="spacingAndGlyphs">TPS/ASP-4</text>
<line x1="84.5" y1="643.4" x2="99.4" y2="643.4" stroke="#F79646" stroke-width="2.2"/>
<text x="100.9" y="647.4" class="lg" textLength="53.8" lengthAdjust="spacingAndGlyphs">TPs/ASP-5</text>
<line x1="84.5" y1="662.1" x2="99.4" y2="662.1" stroke="#00B0F0" stroke-width="2.2"/>
<text x="100.9" y="666.1" class="lg" textLength="53.8" lengthAdjust="spacingAndGlyphs">TPS/ASP-6</text>
<text x="232.2" y="718.5" class="ti" style="font-size:15.3px" textLength="121.3" lengthAdjust="spacingAndGlyphs">Temperature (°C)</text>
<text transform="translate(27.9,593.9) rotate(-90)" class="ti" style="font-size:15.3px" textLength="113.4" lengthAdjust="spacingAndGlyphs">Heat flow (mW)</text>
<text x="274.3" y="742.8" class="cap" text-anchor="middle">(<tspan class="cb">b</tspan>)</text>
</svg>
</body></html>
